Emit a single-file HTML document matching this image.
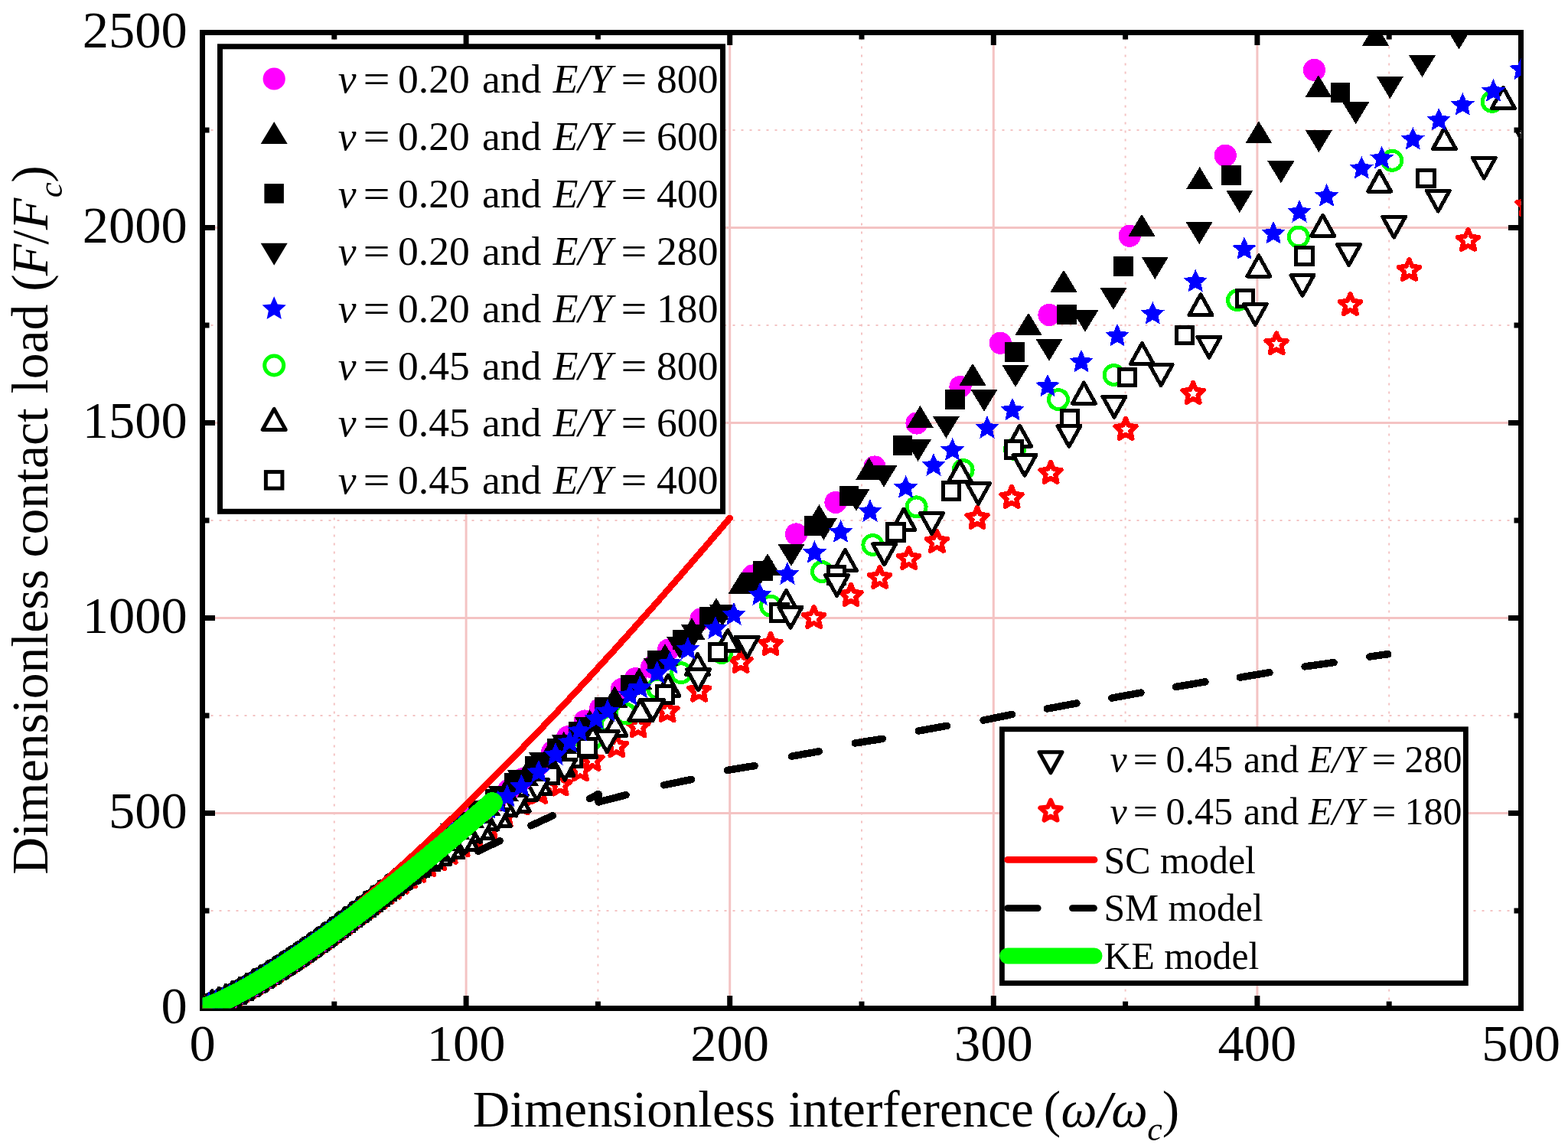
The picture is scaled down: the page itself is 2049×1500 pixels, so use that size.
<!DOCTYPE html>
<html><head><meta charset="utf-8"><title>Dimensionless contact load vs interference</title>
<style>html,body{margin:0;padding:0;background:#fff;}svg{display:block;}</style></head>
<body>
<svg width="2049" height="1500" viewBox="0 0 2049 1500">
<rect width="2049" height="1500" fill="#fff"/>
<defs><clipPath id="cp"><rect x="264.5" y="42.5" width="1723.0" height="1275.0"/></clipPath></defs>
<line x1="436.8" y1="1317.5" x2="436.8" y2="42.5" stroke="#f4c3c3" stroke-width="2" stroke-dasharray="3 8"/>
<line x1="609.1" y1="42.5" x2="609.1" y2="1317.5" stroke="#f4c3c3" stroke-width="3"/>
<line x1="781.4" y1="1317.5" x2="781.4" y2="42.5" stroke="#f4c3c3" stroke-width="2" stroke-dasharray="3 8"/>
<line x1="953.7" y1="42.5" x2="953.7" y2="1317.5" stroke="#f4c3c3" stroke-width="3"/>
<line x1="1126.0" y1="1317.5" x2="1126.0" y2="42.5" stroke="#f4c3c3" stroke-width="2" stroke-dasharray="3 8"/>
<line x1="1298.3" y1="42.5" x2="1298.3" y2="1317.5" stroke="#f4c3c3" stroke-width="3"/>
<line x1="1470.6" y1="1317.5" x2="1470.6" y2="42.5" stroke="#f4c3c3" stroke-width="2" stroke-dasharray="3 8"/>
<line x1="1642.9" y1="42.5" x2="1642.9" y2="1317.5" stroke="#f4c3c3" stroke-width="3"/>
<line x1="1815.2" y1="1317.5" x2="1815.2" y2="42.5" stroke="#f4c3c3" stroke-width="2" stroke-dasharray="3 8"/>
<line x1="264.5" y1="1190.0" x2="1987.5" y2="1190.0" stroke="#f4c3c3" stroke-width="2" stroke-dasharray="3 8"/>
<line x1="264.5" y1="1062.5" x2="1987.5" y2="1062.5" stroke="#f4c3c3" stroke-width="3"/>
<line x1="264.5" y1="935.0" x2="1987.5" y2="935.0" stroke="#f4c3c3" stroke-width="2" stroke-dasharray="3 8"/>
<line x1="264.5" y1="807.5" x2="1987.5" y2="807.5" stroke="#f4c3c3" stroke-width="3"/>
<line x1="264.5" y1="680.0" x2="1987.5" y2="680.0" stroke="#f4c3c3" stroke-width="2" stroke-dasharray="3 8"/>
<line x1="264.5" y1="552.5" x2="1987.5" y2="552.5" stroke="#f4c3c3" stroke-width="3"/>
<line x1="264.5" y1="425.0" x2="1987.5" y2="425.0" stroke="#f4c3c3" stroke-width="2" stroke-dasharray="3 8"/>
<line x1="264.5" y1="297.5" x2="1987.5" y2="297.5" stroke="#f4c3c3" stroke-width="3"/>
<line x1="264.5" y1="170.0" x2="1987.5" y2="170.0" stroke="#f4c3c3" stroke-width="2" stroke-dasharray="3 8"/>
<rect x="264.5" y="42.5" width="1723.0" height="1275.0" fill="none" stroke="#000" stroke-width="7"/>
<line x1="436.8" y1="1317.5" x2="436.8" y2="1308.5" stroke="#000" stroke-width="7"/>
<line x1="436.8" y1="42.5" x2="436.8" y2="51.5" stroke="#000" stroke-width="7"/>
<line x1="609.1" y1="1317.5" x2="609.1" y2="1301.0" stroke="#000" stroke-width="7"/>
<line x1="609.1" y1="42.5" x2="609.1" y2="59.0" stroke="#000" stroke-width="7"/>
<line x1="781.4" y1="1317.5" x2="781.4" y2="1308.5" stroke="#000" stroke-width="7"/>
<line x1="781.4" y1="42.5" x2="781.4" y2="51.5" stroke="#000" stroke-width="7"/>
<line x1="953.7" y1="1317.5" x2="953.7" y2="1301.0" stroke="#000" stroke-width="7"/>
<line x1="953.7" y1="42.5" x2="953.7" y2="59.0" stroke="#000" stroke-width="7"/>
<line x1="1126.0" y1="1317.5" x2="1126.0" y2="1308.5" stroke="#000" stroke-width="7"/>
<line x1="1126.0" y1="42.5" x2="1126.0" y2="51.5" stroke="#000" stroke-width="7"/>
<line x1="1298.3" y1="1317.5" x2="1298.3" y2="1301.0" stroke="#000" stroke-width="7"/>
<line x1="1298.3" y1="42.5" x2="1298.3" y2="59.0" stroke="#000" stroke-width="7"/>
<line x1="1470.6" y1="1317.5" x2="1470.6" y2="1308.5" stroke="#000" stroke-width="7"/>
<line x1="1470.6" y1="42.5" x2="1470.6" y2="51.5" stroke="#000" stroke-width="7"/>
<line x1="1642.9" y1="1317.5" x2="1642.9" y2="1301.0" stroke="#000" stroke-width="7"/>
<line x1="1642.9" y1="42.5" x2="1642.9" y2="59.0" stroke="#000" stroke-width="7"/>
<line x1="1815.2" y1="1317.5" x2="1815.2" y2="1308.5" stroke="#000" stroke-width="7"/>
<line x1="1815.2" y1="42.5" x2="1815.2" y2="51.5" stroke="#000" stroke-width="7"/>
<line x1="264.5" y1="1190.0" x2="273.5" y2="1190.0" stroke="#000" stroke-width="7"/>
<line x1="1987.5" y1="1190.0" x2="1978.5" y2="1190.0" stroke="#000" stroke-width="7"/>
<line x1="264.5" y1="1062.5" x2="281.0" y2="1062.5" stroke="#000" stroke-width="7"/>
<line x1="1987.5" y1="1062.5" x2="1971.0" y2="1062.5" stroke="#000" stroke-width="7"/>
<line x1="264.5" y1="935.0" x2="273.5" y2="935.0" stroke="#000" stroke-width="7"/>
<line x1="1987.5" y1="935.0" x2="1978.5" y2="935.0" stroke="#000" stroke-width="7"/>
<line x1="264.5" y1="807.5" x2="281.0" y2="807.5" stroke="#000" stroke-width="7"/>
<line x1="1987.5" y1="807.5" x2="1971.0" y2="807.5" stroke="#000" stroke-width="7"/>
<line x1="264.5" y1="680.0" x2="273.5" y2="680.0" stroke="#000" stroke-width="7"/>
<line x1="1987.5" y1="680.0" x2="1978.5" y2="680.0" stroke="#000" stroke-width="7"/>
<line x1="264.5" y1="552.5" x2="281.0" y2="552.5" stroke="#000" stroke-width="7"/>
<line x1="1987.5" y1="552.5" x2="1971.0" y2="552.5" stroke="#000" stroke-width="7"/>
<line x1="264.5" y1="425.0" x2="273.5" y2="425.0" stroke="#000" stroke-width="7"/>
<line x1="1987.5" y1="425.0" x2="1978.5" y2="425.0" stroke="#000" stroke-width="7"/>
<line x1="264.5" y1="297.5" x2="281.0" y2="297.5" stroke="#000" stroke-width="7"/>
<line x1="1987.5" y1="297.5" x2="1971.0" y2="297.5" stroke="#000" stroke-width="7"/>
<line x1="264.5" y1="170.0" x2="273.5" y2="170.0" stroke="#000" stroke-width="7"/>
<line x1="1987.5" y1="170.0" x2="1978.5" y2="170.0" stroke="#000" stroke-width="7"/>
<g clip-path="url(#cp)" shape-rendering="crispEdges">
<polygon points="270.0,1301.1 273.9,1310.2 283.7,1311.1 276.3,1317.6 278.5,1327.2 270.0,1322.2 261.5,1327.2 263.7,1317.6 256.3,1311.1 266.1,1310.2" fill="#fff" stroke="#ff0000" stroke-width="6.0" stroke-linejoin="round"/>
<polygon points="279.0,1298.2 282.9,1307.2 292.7,1308.1 285.3,1314.6 287.5,1324.2 279.0,1319.2 270.5,1324.2 272.7,1314.6 265.3,1308.1 275.1,1307.2" fill="#fff" stroke="#ff0000" stroke-width="6.0" stroke-linejoin="round"/>
<polygon points="288.0,1294.8 291.9,1303.8 301.7,1304.7 294.3,1311.2 296.5,1320.8 288.0,1315.8 279.5,1320.8 281.7,1311.2 274.3,1304.7 284.1,1303.8" fill="#fff" stroke="#ff0000" stroke-width="6.0" stroke-linejoin="round"/>
<polygon points="297.0,1290.9 300.9,1300.0 310.7,1300.9 303.3,1307.4 305.5,1317.0 297.0,1311.9 288.5,1317.0 290.7,1307.4 283.3,1300.9 293.1,1300.0" fill="#fff" stroke="#ff0000" stroke-width="6.0" stroke-linejoin="round"/>
<polygon points="306.0,1286.4 309.9,1295.5 319.7,1296.4 312.3,1302.9 314.5,1312.5 306.0,1307.5 297.5,1312.5 299.7,1302.9 292.3,1296.4 302.1,1295.5" fill="#fff" stroke="#ff0000" stroke-width="6.0" stroke-linejoin="round"/>
<polygon points="315.0,1281.5 318.9,1290.6 328.7,1291.5 321.3,1298.0 323.5,1307.6 315.0,1302.6 306.5,1307.6 308.7,1298.0 301.3,1291.5 311.1,1290.6" fill="#fff" stroke="#ff0000" stroke-width="6.0" stroke-linejoin="round"/>
<polygon points="324.0,1276.4 327.9,1285.5 337.7,1286.4 330.3,1292.9 332.5,1302.5 324.0,1297.4 315.5,1302.5 317.7,1292.9 310.3,1286.4 320.1,1285.5" fill="#fff" stroke="#ff0000" stroke-width="6.0" stroke-linejoin="round"/>
<polygon points="333.0,1271.3 336.9,1280.3 346.7,1281.2 339.3,1287.7 341.5,1297.3 333.0,1292.3 324.5,1297.3 326.7,1287.7 319.3,1281.2 329.1,1280.3" fill="#fff" stroke="#ff0000" stroke-width="6.0" stroke-linejoin="round"/>
<polygon points="342.0,1266.0 345.9,1275.0 355.7,1275.9 348.3,1282.4 350.5,1292.0 342.0,1287.0 333.5,1292.0 335.7,1282.4 328.3,1275.9 338.1,1275.0" fill="#fff" stroke="#ff0000" stroke-width="6.0" stroke-linejoin="round"/>
<polygon points="351.0,1260.5 354.9,1269.5 364.7,1270.4 357.3,1276.9 359.5,1286.5 351.0,1281.5 342.5,1286.5 344.7,1276.9 337.3,1270.4 347.1,1269.5" fill="#fff" stroke="#ff0000" stroke-width="6.0" stroke-linejoin="round"/>
<polygon points="360.0,1254.8 363.9,1263.9 373.7,1264.8 366.3,1271.3 368.5,1280.9 360.0,1275.9 351.5,1280.9 353.7,1271.3 346.3,1264.8 356.1,1263.9" fill="#fff" stroke="#ff0000" stroke-width="6.0" stroke-linejoin="round"/>
<polygon points="369.0,1249.1 372.9,1258.1 382.7,1259.0 375.3,1265.5 377.5,1275.1 369.0,1270.1 360.5,1275.1 362.7,1265.5 355.3,1259.0 365.1,1258.1" fill="#fff" stroke="#ff0000" stroke-width="6.0" stroke-linejoin="round"/>
<polygon points="378.0,1243.2 381.9,1252.2 391.7,1253.2 384.3,1259.7 386.5,1269.3 378.0,1264.2 369.5,1269.3 371.7,1259.7 364.3,1253.2 374.1,1252.2" fill="#fff" stroke="#ff0000" stroke-width="6.0" stroke-linejoin="round"/>
<polygon points="387.0,1237.3 390.9,1246.3 400.7,1247.2 393.3,1253.7 395.5,1263.3 387.0,1258.3 378.5,1263.3 380.7,1253.7 373.3,1247.2 383.1,1246.3" fill="#fff" stroke="#ff0000" stroke-width="6.0" stroke-linejoin="round"/>
<polygon points="396.0,1231.2 399.9,1240.2 409.7,1241.1 402.3,1247.6 404.5,1257.2 396.0,1252.2 387.5,1257.2 389.7,1247.6 382.3,1241.1 392.1,1240.2" fill="#fff" stroke="#ff0000" stroke-width="6.0" stroke-linejoin="round"/>
<polygon points="405.0,1225.0 408.9,1234.0 418.7,1234.9 411.3,1241.4 413.5,1251.0 405.0,1246.0 396.5,1251.0 398.7,1241.4 391.3,1234.9 401.1,1234.0" fill="#fff" stroke="#ff0000" stroke-width="6.0" stroke-linejoin="round"/>
<polygon points="414.0,1218.7 417.9,1227.7 427.7,1228.6 420.3,1235.1 422.5,1244.7 414.0,1239.7 405.5,1244.7 407.7,1235.1 400.3,1228.6 410.1,1227.7" fill="#fff" stroke="#ff0000" stroke-width="6.0" stroke-linejoin="round"/>
<polygon points="423.0,1212.3 426.9,1221.3 436.7,1222.2 429.3,1228.7 431.5,1238.3 423.0,1233.3 414.5,1238.3 416.7,1228.7 409.3,1222.2 419.1,1221.3" fill="#fff" stroke="#ff0000" stroke-width="6.0" stroke-linejoin="round"/>
<polygon points="432.0,1205.8 435.9,1214.9 445.7,1215.8 438.3,1222.3 440.5,1231.9 432.0,1226.8 423.5,1231.9 425.7,1222.3 418.3,1215.8 428.1,1214.9" fill="#fff" stroke="#ff0000" stroke-width="6.0" stroke-linejoin="round"/>
<polygon points="441.0,1199.2 444.9,1208.2 454.7,1209.1 447.3,1215.6 449.5,1225.2 441.0,1220.2 432.5,1225.2 434.7,1215.6 427.3,1209.1 437.1,1208.2" fill="#fff" stroke="#ff0000" stroke-width="6.0" stroke-linejoin="round"/>
<polygon points="450.0,1192.4 453.9,1201.5 463.7,1202.4 456.3,1208.9 458.5,1218.5 450.0,1213.5 441.5,1218.5 443.7,1208.9 436.3,1202.4 446.1,1201.5" fill="#fff" stroke="#ff0000" stroke-width="6.0" stroke-linejoin="round"/>
<polygon points="459.0,1185.7 462.9,1194.7 472.7,1195.6 465.3,1202.1 467.5,1211.7 459.0,1206.7 450.5,1211.7 452.7,1202.1 445.3,1195.6 455.1,1194.7" fill="#fff" stroke="#ff0000" stroke-width="6.0" stroke-linejoin="round"/>
<polygon points="468.0,1179.0 471.9,1188.1 481.7,1189.0 474.3,1195.5 476.5,1205.1 468.0,1200.1 459.5,1205.1 461.7,1195.5 454.3,1189.0 464.1,1188.1" fill="#fff" stroke="#ff0000" stroke-width="6.0" stroke-linejoin="round"/>
<polygon points="477.0,1172.6 480.9,1181.6 490.7,1182.5 483.3,1189.0 485.5,1198.6 477.0,1193.6 468.5,1198.6 470.7,1189.0 463.3,1182.5 473.1,1181.6" fill="#fff" stroke="#ff0000" stroke-width="6.0" stroke-linejoin="round"/>
<polygon points="486.0,1166.1 489.9,1175.1 499.7,1176.0 492.3,1182.5 494.5,1192.1 486.0,1187.1 477.5,1192.1 479.7,1182.5 472.3,1176.0 482.1,1175.1" fill="#fff" stroke="#ff0000" stroke-width="6.0" stroke-linejoin="round"/>
<polygon points="495.0,1159.6 498.9,1168.6 508.7,1169.6 501.3,1176.1 503.5,1185.7 495.0,1180.6 486.5,1185.7 488.7,1176.1 481.3,1169.6 491.1,1168.6" fill="#fff" stroke="#ff0000" stroke-width="6.0" stroke-linejoin="round"/>
<polygon points="504.0,1153.2 507.9,1162.2 517.7,1163.1 510.3,1169.6 512.5,1179.2 504.0,1174.2 495.5,1179.2 497.7,1169.6 490.3,1163.1 500.1,1162.2" fill="#fff" stroke="#ff0000" stroke-width="6.0" stroke-linejoin="round"/>
<polygon points="513.3,1146.6 517.2,1155.7 527.0,1156.6 519.6,1163.1 521.8,1172.7 513.3,1167.6 504.9,1172.7 507.0,1163.1 499.6,1156.6 509.4,1155.7" fill="#fff" stroke="#ff0000" stroke-width="6.0" stroke-linejoin="round"/>
<polygon points="523.4,1139.7 527.3,1148.7 537.1,1149.6 529.7,1156.1 531.8,1165.7 523.4,1160.7 514.9,1165.7 517.1,1156.1 509.7,1149.6 519.5,1148.7" fill="#fff" stroke="#ff0000" stroke-width="6.0" stroke-linejoin="round"/>
<polygon points="534.3,1132.3 538.1,1141.4 548.0,1142.3 540.6,1148.8 542.7,1158.4 534.3,1153.3 525.8,1158.4 528.0,1148.8 520.6,1142.3 530.4,1141.4" fill="#fff" stroke="#ff0000" stroke-width="6.0" stroke-linejoin="round"/>
<polygon points="546.0,1124.7 549.9,1133.7 559.7,1134.6 552.3,1141.1 554.5,1150.7 546.0,1145.7 537.5,1150.7 539.7,1141.1 532.3,1134.6 542.1,1133.7" fill="#fff" stroke="#ff0000" stroke-width="6.0" stroke-linejoin="round"/>
<polygon points="558.7,1116.9 562.6,1125.9 572.4,1126.8 565.0,1133.3 567.1,1142.9 558.7,1137.9 550.2,1142.9 552.4,1133.3 545.0,1126.8 554.8,1125.9" fill="#fff" stroke="#ff0000" stroke-width="6.0" stroke-linejoin="round"/>
<polygon points="572.4,1109.1 576.3,1118.1 586.1,1119.0 578.7,1125.5 580.8,1135.1 572.4,1130.1 563.9,1135.1 566.1,1125.5 558.7,1119.0 568.5,1118.1" fill="#fff" stroke="#ff0000" stroke-width="6.0" stroke-linejoin="round"/>
<polygon points="587.2,1100.7 591.1,1109.8 600.9,1110.7 593.5,1117.2 595.6,1126.8 587.2,1121.8 578.7,1126.8 580.9,1117.2 573.5,1110.7 583.3,1109.8" fill="#fff" stroke="#ff0000" stroke-width="6.0" stroke-linejoin="round"/>
<polygon points="603.1,1091.2 607.0,1100.2 616.8,1101.2 609.4,1107.7 611.6,1117.3 603.1,1112.2 594.7,1117.3 596.8,1107.7 589.4,1101.2 599.2,1100.2" fill="#fff" stroke="#ff0000" stroke-width="6.0" stroke-linejoin="round"/>
<polygon points="620.4,1080.2 624.3,1089.2 634.1,1090.1 626.7,1096.6 628.8,1106.2 620.4,1101.2 611.9,1106.2 614.1,1096.6 606.7,1090.1 616.5,1089.2" fill="#fff" stroke="#ff0000" stroke-width="6.0" stroke-linejoin="round"/>
<polygon points="639.0,1067.6 642.9,1076.6 652.7,1077.5 645.3,1084.0 647.5,1093.6 639.0,1088.6 630.6,1093.6 632.7,1084.0 625.3,1077.5 635.1,1076.6" fill="#fff" stroke="#ff0000" stroke-width="6.0" stroke-linejoin="round"/>
<polygon points="659.1,1052.5 663.0,1061.5 672.8,1062.4 665.4,1068.9 667.6,1078.5 659.1,1073.5 650.7,1078.5 652.8,1068.9 645.4,1062.4 655.2,1061.5" fill="#fff" stroke="#ff0000" stroke-width="6.0" stroke-linejoin="round"/>
<polygon points="680.9,1036.5 684.8,1045.5 694.6,1046.4 687.2,1052.9 689.3,1062.5 680.9,1057.5 672.4,1062.5 674.6,1052.9 667.2,1046.4 677.0,1045.5" fill="#fff" stroke="#ff0000" stroke-width="6.0" stroke-linejoin="round"/>
<polygon points="704.3,1021.8 708.2,1030.9 718.0,1031.8 710.6,1038.3 712.8,1047.9 704.3,1042.9 695.9,1047.9 698.0,1038.3 690.6,1031.8 700.4,1030.9" fill="#fff" stroke="#ff0000" stroke-width="6.0" stroke-linejoin="round"/>
<polygon points="732.0,1011.5 735.9,1020.5 745.7,1021.5 738.3,1027.9 740.5,1037.5 732.0,1032.5 723.5,1037.5 725.7,1027.9 718.3,1021.5 728.1,1020.5" fill="#fff" stroke="#ff0000" stroke-width="6.0" stroke-linejoin="round"/>
<polygon points="758.4,992.3 762.3,1001.3 772.1,1002.3 764.7,1008.7 766.9,1018.3 758.4,1013.3 749.9,1018.3 752.1,1008.7 744.7,1002.3 754.5,1001.3" fill="#fff" stroke="#ff0000" stroke-width="6.0" stroke-linejoin="round"/>
<polygon points="774.0,979.1 777.9,988.1 787.7,989.1 780.3,995.5 782.5,1005.1 774.0,1000.1 765.5,1005.1 767.7,995.5 760.3,989.1 770.1,988.1" fill="#fff" stroke="#ff0000" stroke-width="6.0" stroke-linejoin="round"/>
<polygon points="805.8,961.1 809.7,970.1 819.5,971.1 812.1,977.5 814.3,987.1 805.8,982.1 797.3,987.1 799.5,977.5 792.1,971.1 801.9,970.1" fill="#fff" stroke="#ff0000" stroke-width="6.0" stroke-linejoin="round"/>
<polygon points="834.0,935.3 837.9,944.3 847.7,945.3 840.3,951.7 842.5,961.3 834.0,956.3 825.5,961.3 827.7,951.7 820.3,945.3 830.1,944.3" fill="#fff" stroke="#ff0000" stroke-width="6.0" stroke-linejoin="round"/>
<polygon points="872.0,915.2 875.9,924.2 885.7,925.2 878.3,931.6 880.5,941.2 872.0,936.2 863.5,941.2 865.7,931.6 858.3,925.2 868.1,924.2" fill="#fff" stroke="#ff0000" stroke-width="6.0" stroke-linejoin="round"/>
<polygon points="913.6,888.6 917.5,897.6 927.3,898.6 919.9,905.0 922.1,914.6 913.6,909.6 905.1,914.6 907.3,905.0 899.9,898.6 909.7,897.6" fill="#fff" stroke="#ff0000" stroke-width="6.0" stroke-linejoin="round"/>
<polygon points="968.0,850.9 971.9,859.9 981.7,860.9 974.3,867.3 976.5,876.9 968.0,871.9 959.5,876.9 961.7,867.3 954.3,860.9 964.1,859.9" fill="#fff" stroke="#ff0000" stroke-width="6.0" stroke-linejoin="round"/>
<polygon points="1007.0,827.9 1010.9,836.9 1020.7,837.9 1013.3,844.3 1015.5,853.9 1007.0,848.9 998.5,853.9 1000.7,844.3 993.3,837.9 1003.1,836.9" fill="#fff" stroke="#ff0000" stroke-width="6.0" stroke-linejoin="round"/>
<polygon points="1063.6,792.9 1067.5,801.9 1077.3,802.9 1069.9,809.3 1072.1,818.9 1063.6,813.9 1055.1,818.9 1057.3,809.3 1049.9,802.9 1059.7,801.9" fill="#fff" stroke="#ff0000" stroke-width="6.0" stroke-linejoin="round"/>
<polygon points="1112.0,763.9 1115.9,772.9 1125.7,773.9 1118.3,780.3 1120.5,789.9 1112.0,784.9 1103.5,789.9 1105.7,780.3 1098.3,773.9 1108.1,772.9" fill="#fff" stroke="#ff0000" stroke-width="6.0" stroke-linejoin="round"/>
<polygon points="1149.6,740.9 1153.5,749.9 1163.3,750.9 1155.9,757.3 1158.1,766.9 1149.6,761.9 1141.1,766.9 1143.3,757.3 1135.9,750.9 1145.7,749.9" fill="#fff" stroke="#ff0000" stroke-width="6.0" stroke-linejoin="round"/>
<polygon points="1187.6,715.9 1191.5,724.9 1201.3,725.9 1193.9,732.3 1196.1,741.9 1187.6,736.9 1179.1,741.9 1181.3,732.3 1173.9,725.9 1183.7,724.9" fill="#fff" stroke="#ff0000" stroke-width="6.0" stroke-linejoin="round"/>
<polygon points="1224.4,693.9 1228.3,702.9 1238.1,703.9 1230.7,710.3 1232.9,719.9 1224.4,714.9 1215.9,719.9 1218.1,710.3 1210.7,703.9 1220.5,702.9" fill="#fff" stroke="#ff0000" stroke-width="6.0" stroke-linejoin="round"/>
<polygon points="1277.0,662.9 1280.9,671.9 1290.7,672.9 1283.3,679.3 1285.5,688.9 1277.0,683.9 1268.5,688.9 1270.7,679.3 1263.3,672.9 1273.1,671.9" fill="#fff" stroke="#ff0000" stroke-width="6.0" stroke-linejoin="round"/>
<polygon points="1322.0,635.9 1325.9,644.9 1335.7,645.9 1328.3,652.3 1330.5,661.9 1322.0,656.9 1313.5,661.9 1315.7,652.3 1308.3,645.9 1318.1,644.9" fill="#fff" stroke="#ff0000" stroke-width="6.0" stroke-linejoin="round"/>
<polygon points="1373.0,603.9 1376.9,612.9 1386.7,613.9 1379.3,620.3 1381.5,629.9 1373.0,624.9 1364.5,629.9 1366.7,620.3 1359.3,613.9 1369.1,612.9" fill="#fff" stroke="#ff0000" stroke-width="6.0" stroke-linejoin="round"/>
<polygon points="1471.0,546.9 1474.9,555.9 1484.7,556.9 1477.3,563.3 1479.5,572.9 1471.0,567.9 1462.5,572.9 1464.7,563.3 1457.3,556.9 1467.1,555.9" fill="#fff" stroke="#ff0000" stroke-width="6.0" stroke-linejoin="round"/>
<polygon points="1559.1,499.9 1563.0,508.9 1572.8,509.9 1565.4,516.3 1567.6,525.9 1559.1,520.9 1550.6,525.9 1552.8,516.3 1545.4,509.9 1555.2,508.9" fill="#fff" stroke="#ff0000" stroke-width="6.0" stroke-linejoin="round"/>
<polygon points="1668.1,435.2 1672.0,444.2 1681.8,445.2 1674.4,451.6 1676.6,461.2 1668.1,456.2 1659.6,461.2 1661.8,451.6 1654.4,445.2 1664.2,444.2" fill="#fff" stroke="#ff0000" stroke-width="6.0" stroke-linejoin="round"/>
<polygon points="1764.5,384.0 1768.4,393.0 1778.2,394.0 1770.8,400.4 1773.0,410.0 1764.5,405.0 1756.0,410.0 1758.2,400.4 1750.8,394.0 1760.6,393.0" fill="#fff" stroke="#ff0000" stroke-width="6.0" stroke-linejoin="round"/>
<polygon points="1841.5,338.9 1845.4,347.9 1855.2,348.9 1847.8,355.3 1850.0,364.9 1841.5,359.9 1833.0,364.9 1835.2,355.3 1827.8,348.9 1837.6,347.9" fill="#fff" stroke="#ff0000" stroke-width="6.0" stroke-linejoin="round"/>
<polygon points="1918.5,299.9 1922.4,308.9 1932.2,309.9 1924.8,316.3 1927.0,325.9 1918.5,320.9 1910.0,325.9 1912.2,316.3 1904.8,309.9 1914.6,308.9" fill="#fff" stroke="#ff0000" stroke-width="6.0" stroke-linejoin="round"/>
<polygon points="1996.0,253.9 1999.9,262.9 2009.7,263.9 2002.3,270.3 2004.5,279.9 1996.0,274.9 1987.5,279.9 1989.7,270.3 1982.3,263.9 1992.1,262.9" fill="#fff" stroke="#ff0000" stroke-width="6.0" stroke-linejoin="round"/>
<circle cx="268.0" cy="1315.8" r="12.5" fill="#fff" stroke="#00ff00" stroke-width="5.0"/>
<circle cx="277.0" cy="1313.0" r="12.5" fill="#fff" stroke="#00ff00" stroke-width="5.0"/>
<circle cx="286.0" cy="1309.7" r="12.5" fill="#fff" stroke="#00ff00" stroke-width="5.0"/>
<circle cx="295.0" cy="1305.9" r="12.5" fill="#fff" stroke="#00ff00" stroke-width="5.0"/>
<circle cx="304.0" cy="1301.6" r="12.5" fill="#fff" stroke="#00ff00" stroke-width="5.0"/>
<circle cx="313.0" cy="1296.8" r="12.5" fill="#fff" stroke="#00ff00" stroke-width="5.0"/>
<circle cx="322.0" cy="1291.7" r="12.5" fill="#fff" stroke="#00ff00" stroke-width="5.0"/>
<circle cx="331.0" cy="1286.5" r="12.5" fill="#fff" stroke="#00ff00" stroke-width="5.0"/>
<circle cx="340.0" cy="1281.3" r="12.5" fill="#fff" stroke="#00ff00" stroke-width="5.0"/>
<circle cx="349.0" cy="1275.8" r="12.5" fill="#fff" stroke="#00ff00" stroke-width="5.0"/>
<circle cx="358.0" cy="1270.2" r="12.5" fill="#fff" stroke="#00ff00" stroke-width="5.0"/>
<circle cx="367.0" cy="1264.5" r="12.5" fill="#fff" stroke="#00ff00" stroke-width="5.0"/>
<circle cx="376.0" cy="1258.6" r="12.5" fill="#fff" stroke="#00ff00" stroke-width="5.0"/>
<circle cx="385.0" cy="1252.7" r="12.5" fill="#fff" stroke="#00ff00" stroke-width="5.0"/>
<circle cx="394.0" cy="1246.6" r="12.5" fill="#fff" stroke="#00ff00" stroke-width="5.0"/>
<circle cx="403.0" cy="1240.5" r="12.5" fill="#fff" stroke="#00ff00" stroke-width="5.0"/>
<circle cx="412.0" cy="1234.2" r="12.5" fill="#fff" stroke="#00ff00" stroke-width="5.0"/>
<circle cx="421.0" cy="1227.8" r="12.5" fill="#fff" stroke="#00ff00" stroke-width="5.0"/>
<circle cx="430.0" cy="1221.4" r="12.5" fill="#fff" stroke="#00ff00" stroke-width="5.0"/>
<circle cx="439.0" cy="1214.8" r="12.5" fill="#fff" stroke="#00ff00" stroke-width="5.0"/>
<circle cx="448.0" cy="1208.2" r="12.5" fill="#fff" stroke="#00ff00" stroke-width="5.0"/>
<circle cx="457.0" cy="1201.4" r="12.5" fill="#fff" stroke="#00ff00" stroke-width="5.0"/>
<circle cx="466.0" cy="1194.7" r="12.5" fill="#fff" stroke="#00ff00" stroke-width="5.0"/>
<circle cx="475.0" cy="1187.9" r="12.5" fill="#fff" stroke="#00ff00" stroke-width="5.0"/>
<circle cx="484.0" cy="1181.1" r="12.5" fill="#fff" stroke="#00ff00" stroke-width="5.0"/>
<circle cx="493.0" cy="1174.2" r="12.5" fill="#fff" stroke="#00ff00" stroke-width="5.0"/>
<circle cx="502.0" cy="1167.2" r="12.5" fill="#fff" stroke="#00ff00" stroke-width="5.0"/>
<circle cx="511.2" cy="1160.1" r="12.5" fill="#fff" stroke="#00ff00" stroke-width="5.0"/>
<circle cx="521.1" cy="1152.5" r="12.5" fill="#fff" stroke="#00ff00" stroke-width="5.0"/>
<circle cx="531.7" cy="1144.5" r="12.5" fill="#fff" stroke="#00ff00" stroke-width="5.0"/>
<circle cx="543.3" cy="1136.0" r="12.5" fill="#fff" stroke="#00ff00" stroke-width="5.0"/>
<circle cx="555.7" cy="1127.3" r="12.5" fill="#fff" stroke="#00ff00" stroke-width="5.0"/>
<circle cx="569.2" cy="1118.6" r="12.5" fill="#fff" stroke="#00ff00" stroke-width="5.0"/>
<circle cx="583.7" cy="1109.3" r="12.5" fill="#fff" stroke="#00ff00" stroke-width="5.0"/>
<circle cx="599.4" cy="1098.7" r="12.5" fill="#fff" stroke="#00ff00" stroke-width="5.0"/>
<circle cx="616.4" cy="1085.4" r="12.5" fill="#fff" stroke="#00ff00" stroke-width="5.0"/>
<circle cx="634.7" cy="1070.2" r="12.5" fill="#fff" stroke="#00ff00" stroke-width="5.0"/>
<circle cx="654.5" cy="1054.8" r="12.5" fill="#fff" stroke="#00ff00" stroke-width="5.0"/>
<circle cx="675.8" cy="1038.5" r="12.5" fill="#fff" stroke="#00ff00" stroke-width="5.0"/>
<circle cx="698.9" cy="1021.2" r="12.5" fill="#fff" stroke="#00ff00" stroke-width="5.0"/>
<circle cx="723.8" cy="1002.8" r="12.5" fill="#fff" stroke="#00ff00" stroke-width="5.0"/>
<circle cx="748.8" cy="984.3" r="12.5" fill="#fff" stroke="#00ff00" stroke-width="5.0"/>
<circle cx="773.8" cy="965.8" r="12.5" fill="#fff" stroke="#00ff00" stroke-width="5.0"/>
<circle cx="798.8" cy="946.9" r="12.5" fill="#fff" stroke="#00ff00" stroke-width="5.0"/>
<circle cx="817.6" cy="932.5" r="12.5" fill="#fff" stroke="#00ff00" stroke-width="5.0"/>
<circle cx="859.2" cy="899.5" r="12.5" fill="#fff" stroke="#00ff00" stroke-width="5.0"/>
<circle cx="890.1" cy="879.2" r="12.5" fill="#fff" stroke="#00ff00" stroke-width="5.0"/>
<circle cx="943.0" cy="853.0" r="12.5" fill="#fff" stroke="#00ff00" stroke-width="5.0"/>
<circle cx="1007.0" cy="791.6" r="12.5" fill="#fff" stroke="#00ff00" stroke-width="5.0"/>
<circle cx="1074.0" cy="747.0" r="12.5" fill="#fff" stroke="#00ff00" stroke-width="5.0"/>
<circle cx="1140.4" cy="712.0" r="12.5" fill="#fff" stroke="#00ff00" stroke-width="5.0"/>
<circle cx="1197.6" cy="662.4" r="12.5" fill="#fff" stroke="#00ff00" stroke-width="5.0"/>
<circle cx="1258.6" cy="614.0" r="12.5" fill="#fff" stroke="#00ff00" stroke-width="5.0"/>
<circle cx="1326.0" cy="587.0" r="12.5" fill="#fff" stroke="#00ff00" stroke-width="5.0"/>
<circle cx="1383.0" cy="522.0" r="12.5" fill="#fff" stroke="#00ff00" stroke-width="5.0"/>
<circle cx="1455.6" cy="490.0" r="12.5" fill="#fff" stroke="#00ff00" stroke-width="5.0"/>
<circle cx="1617.0" cy="392.2" r="12.5" fill="#fff" stroke="#00ff00" stroke-width="5.0"/>
<circle cx="1696.8" cy="309.5" r="12.5" fill="#fff" stroke="#00ff00" stroke-width="5.0"/>
<circle cx="1819.3" cy="209.8" r="12.5" fill="#fff" stroke="#00ff00" stroke-width="5.0"/>
<circle cx="1949.6" cy="132.8" r="12.5" fill="#fff" stroke="#00ff00" stroke-width="5.0"/>
<polygon points="262.0,1321.5 292.0,1321.5 277.0,1294.5" fill="#fff" stroke="#000" stroke-width="5.0" stroke-linejoin="round"/>
<polygon points="271.0,1318.2 301.0,1318.2 286.0,1291.2" fill="#fff" stroke="#000" stroke-width="5.0" stroke-linejoin="round"/>
<polygon points="280.0,1314.4 310.0,1314.4 295.0,1287.4" fill="#fff" stroke="#000" stroke-width="5.0" stroke-linejoin="round"/>
<polygon points="289.0,1310.1 319.0,1310.1 304.0,1283.1" fill="#fff" stroke="#000" stroke-width="5.0" stroke-linejoin="round"/>
<polygon points="298.0,1305.3 328.0,1305.3 313.0,1278.3" fill="#fff" stroke="#000" stroke-width="5.0" stroke-linejoin="round"/>
<polygon points="307.0,1300.2 337.0,1300.2 322.0,1273.2" fill="#fff" stroke="#000" stroke-width="5.0" stroke-linejoin="round"/>
<polygon points="316.0,1295.0 346.0,1295.0 331.0,1268.0" fill="#fff" stroke="#000" stroke-width="5.0" stroke-linejoin="round"/>
<polygon points="325.0,1289.8 355.0,1289.8 340.0,1262.8" fill="#fff" stroke="#000" stroke-width="5.0" stroke-linejoin="round"/>
<polygon points="334.0,1284.3 364.0,1284.3 349.0,1257.3" fill="#fff" stroke="#000" stroke-width="5.0" stroke-linejoin="round"/>
<polygon points="343.0,1278.7 373.0,1278.7 358.0,1251.7" fill="#fff" stroke="#000" stroke-width="5.0" stroke-linejoin="round"/>
<polygon points="352.0,1273.0 382.0,1273.0 367.0,1246.0" fill="#fff" stroke="#000" stroke-width="5.0" stroke-linejoin="round"/>
<polygon points="361.0,1267.1 391.0,1267.1 376.0,1240.1" fill="#fff" stroke="#000" stroke-width="5.0" stroke-linejoin="round"/>
<polygon points="370.0,1261.2 400.0,1261.2 385.0,1234.2" fill="#fff" stroke="#000" stroke-width="5.0" stroke-linejoin="round"/>
<polygon points="379.0,1255.1 409.0,1255.1 394.0,1228.1" fill="#fff" stroke="#000" stroke-width="5.0" stroke-linejoin="round"/>
<polygon points="388.0,1249.0 418.0,1249.0 403.0,1222.0" fill="#fff" stroke="#000" stroke-width="5.0" stroke-linejoin="round"/>
<polygon points="397.0,1242.7 427.0,1242.7 412.0,1215.7" fill="#fff" stroke="#000" stroke-width="5.0" stroke-linejoin="round"/>
<polygon points="406.0,1236.3 436.0,1236.3 421.0,1209.3" fill="#fff" stroke="#000" stroke-width="5.0" stroke-linejoin="round"/>
<polygon points="415.0,1229.9 445.0,1229.9 430.0,1202.9" fill="#fff" stroke="#000" stroke-width="5.0" stroke-linejoin="round"/>
<polygon points="424.0,1223.3 454.0,1223.3 439.0,1196.3" fill="#fff" stroke="#000" stroke-width="5.0" stroke-linejoin="round"/>
<polygon points="433.0,1216.6 463.0,1216.6 448.0,1189.6" fill="#fff" stroke="#000" stroke-width="5.0" stroke-linejoin="round"/>
<polygon points="442.0,1209.9 472.0,1209.9 457.0,1182.9" fill="#fff" stroke="#000" stroke-width="5.0" stroke-linejoin="round"/>
<polygon points="451.0,1203.2 481.0,1203.2 466.0,1176.2" fill="#fff" stroke="#000" stroke-width="5.0" stroke-linejoin="round"/>
<polygon points="460.0,1196.5 490.0,1196.5 475.0,1169.5" fill="#fff" stroke="#000" stroke-width="5.0" stroke-linejoin="round"/>
<polygon points="469.0,1189.6 499.0,1189.6 484.0,1162.6" fill="#fff" stroke="#000" stroke-width="5.0" stroke-linejoin="round"/>
<polygon points="478.0,1182.7 508.0,1182.7 493.0,1155.7" fill="#fff" stroke="#000" stroke-width="5.0" stroke-linejoin="round"/>
<polygon points="487.0,1175.7 517.0,1175.7 502.0,1148.7" fill="#fff" stroke="#000" stroke-width="5.0" stroke-linejoin="round"/>
<polygon points="496.2,1168.7 526.2,1168.7 511.2,1141.7" fill="#fff" stroke="#000" stroke-width="5.0" stroke-linejoin="round"/>
<polygon points="506.4,1161.1 536.4,1161.1 521.4,1134.1" fill="#fff" stroke="#000" stroke-width="5.0" stroke-linejoin="round"/>
<polygon points="517.6,1153.0 547.6,1153.0 532.6,1126.0" fill="#fff" stroke="#000" stroke-width="5.0" stroke-linejoin="round"/>
<polygon points="530.1,1144.8 560.1,1144.8 545.1,1117.8" fill="#fff" stroke="#000" stroke-width="5.0" stroke-linejoin="round"/>
<polygon points="543.8,1136.8 573.8,1136.8 558.8,1109.8" fill="#fff" stroke="#000" stroke-width="5.0" stroke-linejoin="round"/>
<polygon points="559.0,1129.2 589.0,1129.2 574.0,1102.2" fill="#fff" stroke="#000" stroke-width="5.0" stroke-linejoin="round"/>
<polygon points="575.7,1120.9 605.7,1120.9 590.7,1093.9" fill="#fff" stroke="#000" stroke-width="5.0" stroke-linejoin="round"/>
<polygon points="594.3,1110.0 624.3,1110.0 609.3,1083.0" fill="#fff" stroke="#000" stroke-width="5.0" stroke-linejoin="round"/>
<polygon points="614.7,1095.9 644.7,1095.9 629.7,1068.9" fill="#fff" stroke="#000" stroke-width="5.0" stroke-linejoin="round"/>
<polygon points="637.3,1079.4 667.3,1079.4 652.3,1052.4" fill="#fff" stroke="#000" stroke-width="5.0" stroke-linejoin="round"/>
<polygon points="662.3,1060.1 692.3,1060.1 677.3,1033.1" fill="#fff" stroke="#000" stroke-width="5.0" stroke-linejoin="round"/>
<polygon points="690.0,1037.7 720.0,1037.7 705.0,1010.7" fill="#fff" stroke="#000" stroke-width="5.0" stroke-linejoin="round"/>
<polygon points="720.0,1013.1 750.0,1013.1 735.0,986.1" fill="#fff" stroke="#000" stroke-width="5.0" stroke-linejoin="round"/>
<polygon points="750.0,989.2 780.0,989.2 765.0,962.2" fill="#fff" stroke="#000" stroke-width="5.0" stroke-linejoin="round"/>
<polygon points="789.0,961.1 819.0,961.1 804.0,934.1" fill="#fff" stroke="#000" stroke-width="5.0" stroke-linejoin="round"/>
<polygon points="821.8,941.3 851.8,941.3 836.8,914.3" fill="#fff" stroke="#000" stroke-width="5.0" stroke-linejoin="round"/>
<polygon points="858.0,909.3 888.0,909.3 873.0,882.3" fill="#fff" stroke="#000" stroke-width="5.0" stroke-linejoin="round"/>
<polygon points="896.5,881.5 926.5,881.5 911.5,854.5" fill="#fff" stroke="#000" stroke-width="5.0" stroke-linejoin="round"/>
<polygon points="936.0,850.5 966.0,850.5 951.0,823.5" fill="#fff" stroke="#000" stroke-width="5.0" stroke-linejoin="round"/>
<polygon points="1012.4,798.5 1042.4,798.5 1027.4,771.5" fill="#fff" stroke="#000" stroke-width="5.0" stroke-linejoin="round"/>
<polygon points="1089.4,745.5 1119.4,745.5 1104.4,718.5" fill="#fff" stroke="#000" stroke-width="5.0" stroke-linejoin="round"/>
<polygon points="1166.0,692.1 1196.0,692.1 1181.0,665.1" fill="#fff" stroke="#000" stroke-width="5.0" stroke-linejoin="round"/>
<polygon points="1239.4,629.5 1269.4,629.5 1254.4,602.5" fill="#fff" stroke="#000" stroke-width="5.0" stroke-linejoin="round"/>
<polygon points="1317.6,583.1 1347.6,583.1 1332.6,556.1" fill="#fff" stroke="#000" stroke-width="5.0" stroke-linejoin="round"/>
<polygon points="1401.4,527.1 1431.4,527.1 1416.4,500.1" fill="#fff" stroke="#000" stroke-width="5.0" stroke-linejoin="round"/>
<polygon points="1477.4,475.5 1507.4,475.5 1492.4,448.5" fill="#fff" stroke="#000" stroke-width="5.0" stroke-linejoin="round"/>
<polygon points="1554.0,411.6 1584.0,411.6 1569.0,384.6" fill="#fff" stroke="#000" stroke-width="5.0" stroke-linejoin="round"/>
<polygon points="1629.9,361.0 1659.9,361.0 1644.9,334.0" fill="#fff" stroke="#000" stroke-width="5.0" stroke-linejoin="round"/>
<polygon points="1713.6,308.2 1743.6,308.2 1728.6,281.2" fill="#fff" stroke="#000" stroke-width="5.0" stroke-linejoin="round"/>
<polygon points="1787.7,250.1 1817.7,250.1 1802.7,223.1" fill="#fff" stroke="#000" stroke-width="5.0" stroke-linejoin="round"/>
<polygon points="1872.4,194.6 1902.4,194.6 1887.4,167.6" fill="#fff" stroke="#000" stroke-width="5.0" stroke-linejoin="round"/>
<polygon points="1949.4,141.3 1979.4,141.3 1964.4,114.3" fill="#fff" stroke="#000" stroke-width="5.0" stroke-linejoin="round"/>
<rect x="261.2" y="1303.9" width="21.5" height="21.5" fill="#fff" stroke="#000" stroke-width="5.0"/>
<rect x="270.2" y="1300.8" width="21.5" height="21.5" fill="#fff" stroke="#000" stroke-width="5.0"/>
<rect x="279.2" y="1297.3" width="21.5" height="21.5" fill="#fff" stroke="#000" stroke-width="5.0"/>
<rect x="288.2" y="1293.3" width="21.5" height="21.5" fill="#fff" stroke="#000" stroke-width="5.0"/>
<rect x="297.2" y="1288.7" width="21.5" height="21.5" fill="#fff" stroke="#000" stroke-width="5.0"/>
<rect x="306.2" y="1283.8" width="21.5" height="21.5" fill="#fff" stroke="#000" stroke-width="5.0"/>
<rect x="315.2" y="1278.6" width="21.5" height="21.5" fill="#fff" stroke="#000" stroke-width="5.0"/>
<rect x="324.2" y="1273.5" width="21.5" height="21.5" fill="#fff" stroke="#000" stroke-width="5.0"/>
<rect x="333.2" y="1268.1" width="21.5" height="21.5" fill="#fff" stroke="#000" stroke-width="5.0"/>
<rect x="342.2" y="1262.6" width="21.5" height="21.5" fill="#fff" stroke="#000" stroke-width="5.0"/>
<rect x="351.2" y="1256.9" width="21.5" height="21.5" fill="#fff" stroke="#000" stroke-width="5.0"/>
<rect x="360.2" y="1251.1" width="21.5" height="21.5" fill="#fff" stroke="#000" stroke-width="5.0"/>
<rect x="369.2" y="1245.2" width="21.5" height="21.5" fill="#fff" stroke="#000" stroke-width="5.0"/>
<rect x="378.2" y="1239.3" width="21.5" height="21.5" fill="#fff" stroke="#000" stroke-width="5.0"/>
<rect x="387.2" y="1233.2" width="21.5" height="21.5" fill="#fff" stroke="#000" stroke-width="5.0"/>
<rect x="396.2" y="1226.9" width="21.5" height="21.5" fill="#fff" stroke="#000" stroke-width="5.0"/>
<rect x="405.2" y="1220.6" width="21.5" height="21.5" fill="#fff" stroke="#000" stroke-width="5.0"/>
<rect x="414.2" y="1214.2" width="21.5" height="21.5" fill="#fff" stroke="#000" stroke-width="5.0"/>
<rect x="423.2" y="1207.7" width="21.5" height="21.5" fill="#fff" stroke="#000" stroke-width="5.0"/>
<rect x="432.2" y="1201.1" width="21.5" height="21.5" fill="#fff" stroke="#000" stroke-width="5.0"/>
<rect x="441.2" y="1194.4" width="21.5" height="21.5" fill="#fff" stroke="#000" stroke-width="5.0"/>
<rect x="450.2" y="1187.7" width="21.5" height="21.5" fill="#fff" stroke="#000" stroke-width="5.0"/>
<rect x="459.2" y="1180.9" width="21.5" height="21.5" fill="#fff" stroke="#000" stroke-width="5.0"/>
<rect x="468.2" y="1174.2" width="21.5" height="21.5" fill="#fff" stroke="#000" stroke-width="5.0"/>
<rect x="477.2" y="1167.4" width="21.5" height="21.5" fill="#fff" stroke="#000" stroke-width="5.0"/>
<rect x="486.2" y="1160.5" width="21.5" height="21.5" fill="#fff" stroke="#000" stroke-width="5.0"/>
<rect x="495.2" y="1153.6" width="21.5" height="21.5" fill="#fff" stroke="#000" stroke-width="5.0"/>
<rect x="504.9" y="1146.2" width="21.5" height="21.5" fill="#fff" stroke="#000" stroke-width="5.0"/>
<rect x="515.5" y="1138.3" width="21.5" height="21.5" fill="#fff" stroke="#000" stroke-width="5.0"/>
<rect x="527.3" y="1129.8" width="21.5" height="21.5" fill="#fff" stroke="#000" stroke-width="5.0"/>
<rect x="540.3" y="1120.8" width="21.5" height="21.5" fill="#fff" stroke="#000" stroke-width="5.0"/>
<rect x="554.6" y="1111.8" width="21.5" height="21.5" fill="#fff" stroke="#000" stroke-width="5.0"/>
<rect x="570.5" y="1102.3" width="21.5" height="21.5" fill="#fff" stroke="#000" stroke-width="5.0"/>
<rect x="588.0" y="1091.3" width="21.5" height="21.5" fill="#fff" stroke="#000" stroke-width="5.0"/>
<rect x="607.4" y="1077.6" width="21.5" height="21.5" fill="#fff" stroke="#000" stroke-width="5.0"/>
<rect x="628.8" y="1061.6" width="21.5" height="21.5" fill="#fff" stroke="#000" stroke-width="5.0"/>
<rect x="652.5" y="1043.9" width="21.5" height="21.5" fill="#fff" stroke="#000" stroke-width="5.0"/>
<rect x="678.6" y="1024.0" width="21.5" height="21.5" fill="#fff" stroke="#000" stroke-width="5.0"/>
<rect x="707.5" y="1002.0" width="21.5" height="21.5" fill="#fff" stroke="#000" stroke-width="5.0"/>
<rect x="737.5" y="979.5" width="21.5" height="21.5" fill="#fff" stroke="#000" stroke-width="5.0"/>
<rect x="756.6" y="965.6" width="21.5" height="21.5" fill="#fff" stroke="#000" stroke-width="5.0"/>
<rect x="858.0" y="896.8" width="21.5" height="21.5" fill="#fff" stroke="#000" stroke-width="5.0"/>
<rect x="927.2" y="841.2" width="21.5" height="21.5" fill="#fff" stroke="#000" stroke-width="5.0"/>
<rect x="1007.6" y="789.6" width="21.5" height="21.5" fill="#fff" stroke="#000" stroke-width="5.0"/>
<rect x="1082.2" y="740.9" width="21.5" height="21.5" fill="#fff" stroke="#000" stroke-width="5.0"/>
<rect x="1159.7" y="684.9" width="21.5" height="21.5" fill="#fff" stroke="#000" stroke-width="5.0"/>
<rect x="1232.2" y="630.9" width="21.5" height="21.5" fill="#fff" stroke="#000" stroke-width="5.0"/>
<rect x="1314.2" y="576.9" width="21.5" height="21.5" fill="#fff" stroke="#000" stroke-width="5.0"/>
<rect x="1387.2" y="536.2" width="21.5" height="21.5" fill="#fff" stroke="#000" stroke-width="5.0"/>
<rect x="1462.2" y="482.1" width="21.5" height="21.5" fill="#fff" stroke="#000" stroke-width="5.0"/>
<rect x="1537.3" y="427.1" width="21.5" height="21.5" fill="#fff" stroke="#000" stroke-width="5.0"/>
<rect x="1616.2" y="379.2" width="21.5" height="21.5" fill="#fff" stroke="#000" stroke-width="5.0"/>
<rect x="1693.8" y="323.9" width="21.5" height="21.5" fill="#fff" stroke="#000" stroke-width="5.0"/>
<rect x="1852.8" y="222.2" width="21.5" height="21.5" fill="#fff" stroke="#000" stroke-width="5.0"/>
<polygon points="252.0,1307.6 282.0,1307.6 267.0,1334.6" fill="#fff" stroke="#000" stroke-width="5.0" stroke-linejoin="round"/>
<polygon points="261.0,1304.8 291.0,1304.8 276.0,1331.8" fill="#fff" stroke="#000" stroke-width="5.0" stroke-linejoin="round"/>
<polygon points="270.0,1301.5 300.0,1301.5 285.0,1328.5" fill="#fff" stroke="#000" stroke-width="5.0" stroke-linejoin="round"/>
<polygon points="279.0,1297.9 309.0,1297.9 294.0,1324.9" fill="#fff" stroke="#000" stroke-width="5.0" stroke-linejoin="round"/>
<polygon points="288.0,1293.6 318.0,1293.6 303.0,1320.6" fill="#fff" stroke="#000" stroke-width="5.0" stroke-linejoin="round"/>
<polygon points="297.0,1288.8 327.0,1288.8 312.0,1315.8" fill="#fff" stroke="#000" stroke-width="5.0" stroke-linejoin="round"/>
<polygon points="306.0,1283.7 336.0,1283.7 321.0,1310.7" fill="#fff" stroke="#000" stroke-width="5.0" stroke-linejoin="round"/>
<polygon points="315.0,1278.6 345.0,1278.6 330.0,1305.6" fill="#fff" stroke="#000" stroke-width="5.0" stroke-linejoin="round"/>
<polygon points="324.0,1273.4 354.0,1273.4 339.0,1300.4" fill="#fff" stroke="#000" stroke-width="5.0" stroke-linejoin="round"/>
<polygon points="333.0,1267.9 363.0,1267.9 348.0,1294.9" fill="#fff" stroke="#000" stroke-width="5.0" stroke-linejoin="round"/>
<polygon points="342.0,1262.3 372.0,1262.3 357.0,1289.3" fill="#fff" stroke="#000" stroke-width="5.0" stroke-linejoin="round"/>
<polygon points="351.0,1256.6 381.0,1256.6 366.0,1283.6" fill="#fff" stroke="#000" stroke-width="5.0" stroke-linejoin="round"/>
<polygon points="360.0,1250.8 390.0,1250.8 375.0,1277.8" fill="#fff" stroke="#000" stroke-width="5.0" stroke-linejoin="round"/>
<polygon points="369.0,1244.9 399.0,1244.9 384.0,1271.9" fill="#fff" stroke="#000" stroke-width="5.0" stroke-linejoin="round"/>
<polygon points="378.0,1238.8 408.0,1238.8 393.0,1265.8" fill="#fff" stroke="#000" stroke-width="5.0" stroke-linejoin="round"/>
<polygon points="387.0,1232.6 417.0,1232.6 402.0,1259.6" fill="#fff" stroke="#000" stroke-width="5.0" stroke-linejoin="round"/>
<polygon points="396.0,1226.4 426.0,1226.4 411.0,1253.4" fill="#fff" stroke="#000" stroke-width="5.0" stroke-linejoin="round"/>
<polygon points="405.0,1220.0 435.0,1220.0 420.0,1247.0" fill="#fff" stroke="#000" stroke-width="5.0" stroke-linejoin="round"/>
<polygon points="414.0,1213.6 444.0,1213.6 429.0,1240.6" fill="#fff" stroke="#000" stroke-width="5.0" stroke-linejoin="round"/>
<polygon points="423.0,1207.1 453.0,1207.1 438.0,1234.1" fill="#fff" stroke="#000" stroke-width="5.0" stroke-linejoin="round"/>
<polygon points="432.0,1200.4 462.0,1200.4 447.0,1227.4" fill="#fff" stroke="#000" stroke-width="5.0" stroke-linejoin="round"/>
<polygon points="441.0,1193.7 471.0,1193.7 456.0,1220.7" fill="#fff" stroke="#000" stroke-width="5.0" stroke-linejoin="round"/>
<polygon points="450.0,1186.9 480.0,1186.9 465.0,1213.9" fill="#fff" stroke="#000" stroke-width="5.0" stroke-linejoin="round"/>
<polygon points="459.0,1180.2 489.0,1180.2 474.0,1207.2" fill="#fff" stroke="#000" stroke-width="5.0" stroke-linejoin="round"/>
<polygon points="468.0,1173.3 498.0,1173.3 483.0,1200.3" fill="#fff" stroke="#000" stroke-width="5.0" stroke-linejoin="round"/>
<polygon points="477.0,1166.3 507.0,1166.3 492.0,1193.3" fill="#fff" stroke="#000" stroke-width="5.0" stroke-linejoin="round"/>
<polygon points="486.0,1159.2 516.0,1159.2 501.0,1186.2" fill="#fff" stroke="#000" stroke-width="5.0" stroke-linejoin="round"/>
<polygon points="495.1,1152.0 525.1,1152.0 510.1,1179.0" fill="#fff" stroke="#000" stroke-width="5.0" stroke-linejoin="round"/>
<polygon points="505.2,1144.3 535.2,1144.3 520.2,1171.3" fill="#fff" stroke="#000" stroke-width="5.0" stroke-linejoin="round"/>
<polygon points="516.3,1135.9 546.3,1135.9 531.3,1162.9" fill="#fff" stroke="#000" stroke-width="5.0" stroke-linejoin="round"/>
<polygon points="528.6,1127.1 558.6,1127.1 543.6,1154.1" fill="#fff" stroke="#000" stroke-width="5.0" stroke-linejoin="round"/>
<polygon points="542.1,1118.2 572.1,1118.2 557.1,1145.2" fill="#fff" stroke="#000" stroke-width="5.0" stroke-linejoin="round"/>
<polygon points="557.1,1109.3 587.1,1109.3 572.1,1136.3" fill="#fff" stroke="#000" stroke-width="5.0" stroke-linejoin="round"/>
<polygon points="573.7,1099.7 603.7,1099.7 588.7,1126.7" fill="#fff" stroke="#000" stroke-width="5.0" stroke-linejoin="round"/>
<polygon points="592.0,1088.1 622.0,1088.1 607.0,1115.1" fill="#fff" stroke="#000" stroke-width="5.0" stroke-linejoin="round"/>
<polygon points="612.3,1073.7 642.3,1073.7 627.3,1100.7" fill="#fff" stroke="#000" stroke-width="5.0" stroke-linejoin="round"/>
<polygon points="634.6,1057.5 664.6,1057.5 649.6,1084.5" fill="#fff" stroke="#000" stroke-width="5.0" stroke-linejoin="round"/>
<polygon points="659.3,1039.1 689.3,1039.1 674.3,1066.1" fill="#fff" stroke="#000" stroke-width="5.0" stroke-linejoin="round"/>
<polygon points="686.7,1018.6 716.7,1018.6 701.7,1045.6" fill="#fff" stroke="#000" stroke-width="5.0" stroke-linejoin="round"/>
<polygon points="723.0,992.3 753.0,992.3 738.0,1019.3" fill="#fff" stroke="#000" stroke-width="5.0" stroke-linejoin="round"/>
<polygon points="778.2,955.7 808.2,955.7 793.2,982.7" fill="#fff" stroke="#000" stroke-width="5.0" stroke-linejoin="round"/>
<polygon points="837.8,914.8 867.8,914.8 852.8,941.8" fill="#fff" stroke="#000" stroke-width="5.0" stroke-linejoin="round"/>
<polygon points="897.5,874.8 927.5,874.8 912.5,901.8" fill="#fff" stroke="#000" stroke-width="5.0" stroke-linejoin="round"/>
<polygon points="961.4,832.1 991.4,832.1 976.4,859.1" fill="#fff" stroke="#000" stroke-width="5.0" stroke-linejoin="round"/>
<polygon points="1018.0,793.5 1048.0,793.5 1033.0,820.5" fill="#fff" stroke="#000" stroke-width="5.0" stroke-linejoin="round"/>
<polygon points="1078.6,751.5 1108.6,751.5 1093.6,778.5" fill="#fff" stroke="#000" stroke-width="5.0" stroke-linejoin="round"/>
<polygon points="1140.6,710.9 1170.6,710.9 1155.6,737.9" fill="#fff" stroke="#000" stroke-width="5.0" stroke-linejoin="round"/>
<polygon points="1202.6,670.5 1232.6,670.5 1217.6,697.5" fill="#fff" stroke="#000" stroke-width="5.0" stroke-linejoin="round"/>
<polygon points="1263.4,631.5 1293.4,631.5 1278.4,658.5" fill="#fff" stroke="#000" stroke-width="5.0" stroke-linejoin="round"/>
<polygon points="1324.0,594.5 1354.0,594.5 1339.0,621.5" fill="#fff" stroke="#000" stroke-width="5.0" stroke-linejoin="round"/>
<polygon points="1382.0,556.5 1412.0,556.5 1397.0,583.5" fill="#fff" stroke="#000" stroke-width="5.0" stroke-linejoin="round"/>
<polygon points="1441.0,518.1 1471.0,518.1 1456.0,545.1" fill="#fff" stroke="#000" stroke-width="5.0" stroke-linejoin="round"/>
<polygon points="1502.1,476.6 1532.1,476.6 1517.1,503.6" fill="#fff" stroke="#000" stroke-width="5.0" stroke-linejoin="round"/>
<polygon points="1565.0,440.2 1595.0,440.2 1580.0,467.2" fill="#fff" stroke="#000" stroke-width="5.0" stroke-linejoin="round"/>
<polygon points="1625.3,397.3 1655.3,397.3 1640.3,424.3" fill="#fff" stroke="#000" stroke-width="5.0" stroke-linejoin="round"/>
<polygon points="1687.0,359.5 1717.0,359.5 1702.0,386.5" fill="#fff" stroke="#000" stroke-width="5.0" stroke-linejoin="round"/>
<polygon points="1747.6,319.5 1777.6,319.5 1762.6,346.5" fill="#fff" stroke="#000" stroke-width="5.0" stroke-linejoin="round"/>
<polygon points="1806.6,283.1 1836.6,283.1 1821.6,310.1" fill="#fff" stroke="#000" stroke-width="5.0" stroke-linejoin="round"/>
<polygon points="1864.3,249.1 1894.3,249.1 1879.3,276.1" fill="#fff" stroke="#000" stroke-width="5.0" stroke-linejoin="round"/>
<polygon points="1924.3,206.1 1954.3,206.1 1939.3,233.1" fill="#fff" stroke="#000" stroke-width="5.0" stroke-linejoin="round"/>
<polygon points="1981.8,170.3 2011.8,170.3 1996.8,197.3" fill="#fff" stroke="#000" stroke-width="5.0" stroke-linejoin="round"/>
<circle cx="266.0" cy="1317.4" r="14.6" fill="#ff00ff"/>
<circle cx="275.0" cy="1314.6" r="14.6" fill="#ff00ff"/>
<circle cx="284.0" cy="1311.4" r="14.6" fill="#ff00ff"/>
<circle cx="293.0" cy="1307.8" r="14.6" fill="#ff00ff"/>
<circle cx="302.0" cy="1303.6" r="14.6" fill="#ff00ff"/>
<circle cx="311.0" cy="1298.9" r="14.6" fill="#ff00ff"/>
<circle cx="320.0" cy="1293.8" r="14.6" fill="#ff00ff"/>
<circle cx="329.0" cy="1288.7" r="14.6" fill="#ff00ff"/>
<circle cx="338.0" cy="1283.5" r="14.6" fill="#ff00ff"/>
<circle cx="347.0" cy="1278.1" r="14.6" fill="#ff00ff"/>
<circle cx="356.0" cy="1272.5" r="14.6" fill="#ff00ff"/>
<circle cx="365.0" cy="1266.7" r="14.6" fill="#ff00ff"/>
<circle cx="374.0" cy="1260.9" r="14.6" fill="#ff00ff"/>
<circle cx="383.0" cy="1255.0" r="14.6" fill="#ff00ff"/>
<circle cx="392.0" cy="1249.0" r="14.6" fill="#ff00ff"/>
<circle cx="401.0" cy="1242.8" r="14.6" fill="#ff00ff"/>
<circle cx="410.0" cy="1236.6" r="14.6" fill="#ff00ff"/>
<circle cx="419.0" cy="1230.2" r="14.6" fill="#ff00ff"/>
<circle cx="428.0" cy="1223.8" r="14.6" fill="#ff00ff"/>
<circle cx="437.0" cy="1217.3" r="14.6" fill="#ff00ff"/>
<circle cx="446.0" cy="1210.8" r="14.6" fill="#ff00ff"/>
<circle cx="455.0" cy="1204.1" r="14.6" fill="#ff00ff"/>
<circle cx="464.0" cy="1197.3" r="14.6" fill="#ff00ff"/>
<circle cx="473.0" cy="1190.4" r="14.6" fill="#ff00ff"/>
<circle cx="482.0" cy="1183.2" r="14.6" fill="#ff00ff"/>
<circle cx="491.0" cy="1176.0" r="14.6" fill="#ff00ff"/>
<circle cx="500.0" cy="1168.6" r="14.6" fill="#ff00ff"/>
<circle cx="509.0" cy="1161.1" r="14.6" fill="#ff00ff"/>
<circle cx="518.5" cy="1153.1" r="14.6" fill="#ff00ff"/>
<circle cx="528.5" cy="1144.6" r="14.6" fill="#ff00ff"/>
<circle cx="539.1" cy="1135.6" r="14.6" fill="#ff00ff"/>
<circle cx="550.2" cy="1126.0" r="14.6" fill="#ff00ff"/>
<circle cx="562.0" cy="1115.7" r="14.6" fill="#ff00ff"/>
<circle cx="574.4" cy="1104.5" r="14.6" fill="#ff00ff"/>
<circle cx="587.5" cy="1092.8" r="14.6" fill="#ff00ff"/>
<circle cx="601.3" cy="1081.2" r="14.6" fill="#ff00ff"/>
<circle cx="615.9" cy="1070.0" r="14.6" fill="#ff00ff"/>
<circle cx="631.3" cy="1058.7" r="14.6" fill="#ff00ff"/>
<circle cx="647.5" cy="1046.1" r="14.6" fill="#ff00ff"/>
<circle cx="664.6" cy="1032.6" r="14.6" fill="#ff00ff"/>
<circle cx="682.6" cy="1017.8" r="14.6" fill="#ff00ff"/>
<circle cx="701.7" cy="1001.5" r="14.6" fill="#ff00ff"/>
<circle cx="721.7" cy="982.6" r="14.6" fill="#ff00ff"/>
<circle cx="741.7" cy="962.9" r="14.6" fill="#ff00ff"/>
<circle cx="764.3" cy="942.0" r="14.6" fill="#ff00ff"/>
<circle cx="784.5" cy="926.0" r="14.6" fill="#ff00ff"/>
<circle cx="812.3" cy="900.5" r="14.6" fill="#ff00ff"/>
<circle cx="830.4" cy="886.7" r="14.6" fill="#ff00ff"/>
<circle cx="851.7" cy="871.7" r="14.6" fill="#ff00ff"/>
<circle cx="873.5" cy="849.0" r="14.6" fill="#ff00ff"/>
<circle cx="916.0" cy="809.0" r="14.6" fill="#ff00ff"/>
<circle cx="984.0" cy="752.0" r="14.6" fill="#ff00ff"/>
<circle cx="984.0" cy="752.0" r="14.6" fill="#ff00ff"/>
<circle cx="1040.4" cy="698.0" r="14.6" fill="#ff00ff"/>
<circle cx="1092.0" cy="656.4" r="14.6" fill="#ff00ff"/>
<circle cx="1143.0" cy="610.0" r="14.6" fill="#ff00ff"/>
<circle cx="1198.0" cy="553.0" r="14.6" fill="#ff00ff"/>
<circle cx="1255.0" cy="505.4" r="14.6" fill="#ff00ff"/>
<circle cx="1307.2" cy="448.2" r="14.6" fill="#ff00ff"/>
<circle cx="1371.0" cy="411.4" r="14.6" fill="#ff00ff"/>
<circle cx="1476.2" cy="308.2" r="14.6" fill="#ff00ff"/>
<circle cx="1601.2" cy="203.3" r="14.6" fill="#ff00ff"/>
<circle cx="1717.5" cy="91.5" r="14.6" fill="#ff00ff"/>
<polygon points="251.5,1305.5 286.5,1305.5 269.0,1334.5" fill="#000"/>
<polygon points="260.5,1302.6 295.5,1302.6 278.0,1331.6" fill="#000"/>
<polygon points="269.5,1299.3 304.5,1299.3 287.0,1328.3" fill="#000"/>
<polygon points="278.5,1295.5 313.5,1295.5 296.0,1324.5" fill="#000"/>
<polygon points="287.5,1291.1 322.5,1291.1 305.0,1320.1" fill="#000"/>
<polygon points="296.5,1286.2 331.5,1286.2 314.0,1315.2" fill="#000"/>
<polygon points="305.5,1281.1 340.5,1281.1 323.0,1310.1" fill="#000"/>
<polygon points="314.5,1276.0 349.5,1276.0 332.0,1305.0" fill="#000"/>
<polygon points="323.5,1270.7 358.5,1270.7 341.0,1299.7" fill="#000"/>
<polygon points="332.5,1265.2 367.5,1265.2 350.0,1294.2" fill="#000"/>
<polygon points="341.5,1259.6 376.5,1259.6 359.0,1288.6" fill="#000"/>
<polygon points="350.5,1253.8 385.5,1253.8 368.0,1282.8" fill="#000"/>
<polygon points="359.5,1248.0 394.5,1248.0 377.0,1277.0" fill="#000"/>
<polygon points="368.5,1242.0 403.5,1242.0 386.0,1271.0" fill="#000"/>
<polygon points="377.5,1236.0 412.5,1236.0 395.0,1265.0" fill="#000"/>
<polygon points="386.5,1229.8 421.5,1229.8 404.0,1258.8" fill="#000"/>
<polygon points="395.5,1223.5 430.5,1223.5 413.0,1252.5" fill="#000"/>
<polygon points="404.5,1217.1 439.5,1217.1 422.0,1246.1" fill="#000"/>
<polygon points="413.5,1210.6 448.5,1210.6 431.0,1239.6" fill="#000"/>
<polygon points="422.5,1204.1 457.5,1204.1 440.0,1233.1" fill="#000"/>
<polygon points="431.5,1197.5 466.5,1197.5 449.0,1226.5" fill="#000"/>
<polygon points="440.5,1190.7 475.5,1190.7 458.0,1219.7" fill="#000"/>
<polygon points="449.5,1184.0 484.5,1184.0 467.0,1213.0" fill="#000"/>
<polygon points="458.5,1177.2 493.5,1177.2 476.0,1206.2" fill="#000"/>
<polygon points="467.5,1170.5 502.5,1170.5 485.0,1199.5" fill="#000"/>
<polygon points="476.5,1163.9 511.5,1163.9 494.0,1192.9" fill="#000"/>
<polygon points="485.5,1157.2 520.5,1157.2 503.0,1186.2" fill="#000"/>
<polygon points="494.8,1150.2 529.8,1150.2 512.3,1179.2" fill="#000"/>
<polygon points="505.1,1142.3 540.1,1142.3 522.6,1171.3" fill="#000"/>
<polygon points="516.5,1133.3 551.5,1133.3 534.0,1162.3" fill="#000"/>
<polygon points="529.1,1122.8 564.1,1122.8 546.6,1151.8" fill="#000"/>
<polygon points="542.9,1109.8 577.9,1109.8 560.4,1138.8" fill="#000"/>
<polygon points="558.3,1093.8 593.3,1093.8 575.8,1122.8" fill="#000"/>
<polygon points="575.2,1076.4 610.2,1076.4 592.7,1105.4" fill="#000"/>
<polygon points="594.0,1060.6 629.0,1060.6 611.5,1089.6" fill="#000"/>
<polygon points="614.7,1045.5 649.7,1045.5 632.2,1074.5" fill="#000"/>
<polygon points="637.6,1027.2 672.6,1027.2 655.1,1056.2" fill="#000"/>
<polygon points="662.8,1005.8 697.8,1005.8 680.3,1034.8" fill="#000"/>
<polygon points="690.8,983.0 725.8,983.0 708.3,1012.0" fill="#000"/>
<polygon points="720.8,960.1 755.8,960.1 738.3,989.1" fill="#000"/>
<polygon points="750.8,937.0 785.8,937.0 768.3,966.0" fill="#000"/>
<polygon points="780.8,912.9 815.8,912.9 798.3,941.9" fill="#000"/>
<polygon points="810.8,887.0 845.8,887.0 828.3,916.0" fill="#000"/>
<polygon points="840.8,859.9 875.8,859.9 858.3,888.9" fill="#000"/>
<polygon points="870.8,831.6 905.8,831.6 888.3,860.6" fill="#000"/>
<polygon points="889.5,815.5 924.5,815.5 907.0,844.5" fill="#000"/>
<polygon points="926.5,789.5 961.5,789.5 944.0,818.5" fill="#000"/>
<polygon points="968.5,747.5 1003.5,747.5 986.0,776.5" fill="#000"/>
<polygon points="1016.5,710.9 1051.5,710.9 1034.0,739.9" fill="#000"/>
<polygon points="1058.9,676.9 1093.9,676.9 1076.4,705.9" fill="#000"/>
<polygon points="1101.5,638.9 1136.5,638.9 1119.0,667.9" fill="#000"/>
<polygon points="1137.5,607.9 1172.5,607.9 1155.0,636.9" fill="#000"/>
<polygon points="1182.1,573.9 1217.1,573.9 1199.6,602.9" fill="#000"/>
<polygon points="1218.9,543.9 1253.9,543.9 1236.4,572.9" fill="#000"/>
<polygon points="1268.5,508.9 1303.5,508.9 1286.0,537.9" fill="#000"/>
<polygon points="1309.5,476.9 1344.5,476.9 1327.0,505.9" fill="#000"/>
<polygon points="1353.5,442.9 1388.5,442.9 1371.0,471.9" fill="#000"/>
<polygon points="1400.5,404.9 1435.5,404.9 1418.0,433.9" fill="#000"/>
<polygon points="1437.5,375.9 1472.5,375.9 1455.0,404.9" fill="#000"/>
<polygon points="1491.8,336.0 1526.8,336.0 1509.3,365.0" fill="#000"/>
<polygon points="1549.7,290.2 1584.7,290.2 1567.2,319.2" fill="#000"/>
<polygon points="1602.3,249.1 1637.3,249.1 1619.8,278.1" fill="#000"/>
<polygon points="1656.4,210.4 1691.4,210.4 1673.9,239.4" fill="#000"/>
<polygon points="1705.9,170.2 1740.9,170.2 1723.4,199.2" fill="#000"/>
<polygon points="1754.2,133.4 1789.2,133.4 1771.7,162.4" fill="#000"/>
<polygon points="1798.9,100.1 1833.9,100.1 1816.4,129.1" fill="#000"/>
<polygon points="1841.0,72.1 1876.0,72.1 1858.5,101.1" fill="#000"/>
<polygon points="1889.0,35.5 1924.0,35.5 1906.5,64.5" fill="#000"/>
<polygon points="253.5,1324.9 288.5,1324.9 271.0,1295.9" fill="#000"/>
<polygon points="262.5,1321.9 297.5,1321.9 280.0,1292.9" fill="#000"/>
<polygon points="271.5,1318.5 306.5,1318.5 289.0,1289.5" fill="#000"/>
<polygon points="280.5,1314.6 315.5,1314.6 298.0,1285.6" fill="#000"/>
<polygon points="289.5,1310.0 324.5,1310.0 307.0,1281.0" fill="#000"/>
<polygon points="298.5,1305.1 333.5,1305.1 316.0,1276.1" fill="#000"/>
<polygon points="307.5,1299.9 342.5,1299.9 325.0,1270.9" fill="#000"/>
<polygon points="316.5,1294.8 351.5,1294.8 334.0,1265.8" fill="#000"/>
<polygon points="325.5,1289.5 360.5,1289.5 343.0,1260.5" fill="#000"/>
<polygon points="334.5,1284.0 369.5,1284.0 352.0,1255.0" fill="#000"/>
<polygon points="343.5,1278.3 378.5,1278.3 361.0,1249.3" fill="#000"/>
<polygon points="352.5,1272.5 387.5,1272.5 370.0,1243.5" fill="#000"/>
<polygon points="361.5,1266.7 396.5,1266.7 379.0,1237.7" fill="#000"/>
<polygon points="370.5,1260.7 405.5,1260.7 388.0,1231.7" fill="#000"/>
<polygon points="379.5,1254.6 414.5,1254.6 397.0,1225.6" fill="#000"/>
<polygon points="388.5,1248.4 423.5,1248.4 406.0,1219.4" fill="#000"/>
<polygon points="397.5,1242.0 432.5,1242.0 415.0,1213.0" fill="#000"/>
<polygon points="406.5,1235.6 441.5,1235.6 424.0,1206.6" fill="#000"/>
<polygon points="415.5,1229.2 450.5,1229.2 433.0,1200.2" fill="#000"/>
<polygon points="424.5,1222.7 459.5,1222.7 442.0,1193.7" fill="#000"/>
<polygon points="433.5,1216.0 468.5,1216.0 451.0,1187.0" fill="#000"/>
<polygon points="442.5,1209.3 477.5,1209.3 460.0,1180.3" fill="#000"/>
<polygon points="451.5,1202.5 486.5,1202.5 469.0,1173.5" fill="#000"/>
<polygon points="460.5,1195.5 495.5,1195.5 478.0,1166.5" fill="#000"/>
<polygon points="469.5,1188.5 504.5,1188.5 487.0,1159.5" fill="#000"/>
<polygon points="478.5,1181.5 513.5,1181.5 496.0,1152.5" fill="#000"/>
<polygon points="487.5,1174.4 522.5,1174.4 505.0,1145.4" fill="#000"/>
<polygon points="497.0,1166.7 532.0,1166.7 514.5,1137.7" fill="#000"/>
<polygon points="507.6,1158.2 542.6,1158.2 525.1,1129.2" fill="#000"/>
<polygon points="519.2,1148.7 554.2,1148.7 536.7,1119.7" fill="#000"/>
<polygon points="532.0,1138.1 567.0,1138.1 549.5,1109.1" fill="#000"/>
<polygon points="546.2,1126.0 581.2,1126.0 563.7,1097.0" fill="#000"/>
<polygon points="561.9,1112.3 596.9,1112.3 579.4,1083.3" fill="#000"/>
<polygon points="579.3,1097.4 614.3,1097.4 596.8,1068.4" fill="#000"/>
<polygon points="598.4,1082.1 633.4,1082.1 615.9,1053.1" fill="#000"/>
<polygon points="619.6,1065.8 654.6,1065.8 637.1,1036.8" fill="#000"/>
<polygon points="643.0,1047.3 678.0,1047.3 660.5,1018.3" fill="#000"/>
<polygon points="668.8,1026.6 703.8,1026.6 686.3,997.6" fill="#000"/>
<polygon points="697.4,1003.3 732.4,1003.3 714.9,974.3" fill="#000"/>
<polygon points="719.3,985.0 754.3,985.0 736.8,956.0" fill="#000"/>
<polygon points="753.2,956.2 788.2,956.2 770.7,927.2" fill="#000"/>
<polygon points="785.7,925.3 820.7,925.3 803.2,896.3" fill="#000"/>
<polygon points="817.7,901.3 852.7,901.3 835.2,872.3" fill="#000"/>
<polygon points="851.5,870.1 886.5,870.1 869.0,841.1" fill="#000"/>
<polygon points="886.5,836.1 921.5,836.1 904.0,807.1" fill="#000"/>
<polygon points="918.5,810.1 953.5,810.1 936.0,781.1" fill="#000"/>
<polygon points="951.5,776.1 986.5,776.1 969.0,747.1" fill="#000"/>
<polygon points="985.5,752.1 1020.5,752.1 1003.0,723.1" fill="#000"/>
<polygon points="1052.9,688.1 1087.9,688.1 1070.4,659.1" fill="#000"/>
<polygon points="1118.1,626.9 1153.1,626.9 1135.6,597.9" fill="#000"/>
<polygon points="1184.9,558.9 1219.9,558.9 1202.4,529.9" fill="#000"/>
<polygon points="1253.5,503.7 1288.5,503.7 1271.0,474.7" fill="#000"/>
<polygon points="1326.5,437.7 1361.5,437.7 1344.0,408.7" fill="#000"/>
<polygon points="1372.5,381.7 1407.5,381.7 1390.0,352.7" fill="#000"/>
<polygon points="1474.5,308.7 1509.5,308.7 1492.0,279.7" fill="#000"/>
<polygon points="1550.2,247.0 1585.2,247.0 1567.7,218.0" fill="#000"/>
<polygon points="1627.4,187.2 1662.4,187.2 1644.9,158.2" fill="#000"/>
<polygon points="1705.4,127.2 1740.4,127.2 1722.9,98.2" fill="#000"/>
<polygon points="1780.0,59.5 1815.0,59.5 1797.5,30.5" fill="#000"/>
<rect x="262.2" y="1300.9" width="25.5" height="25.5" fill="#000"/>
<rect x="271.2" y="1297.7" width="25.5" height="25.5" fill="#000"/>
<rect x="280.2" y="1294.1" width="25.5" height="25.5" fill="#000"/>
<rect x="289.2" y="1289.8" width="25.5" height="25.5" fill="#000"/>
<rect x="298.2" y="1285.1" width="25.5" height="25.5" fill="#000"/>
<rect x="307.2" y="1280.1" width="25.5" height="25.5" fill="#000"/>
<rect x="316.2" y="1274.9" width="25.5" height="25.5" fill="#000"/>
<rect x="325.2" y="1269.7" width="25.5" height="25.5" fill="#000"/>
<rect x="334.2" y="1264.3" width="25.5" height="25.5" fill="#000"/>
<rect x="343.2" y="1258.7" width="25.5" height="25.5" fill="#000"/>
<rect x="352.2" y="1253.0" width="25.5" height="25.5" fill="#000"/>
<rect x="361.2" y="1247.2" width="25.5" height="25.5" fill="#000"/>
<rect x="370.2" y="1241.3" width="25.5" height="25.5" fill="#000"/>
<rect x="379.2" y="1235.2" width="25.5" height="25.5" fill="#000"/>
<rect x="388.2" y="1229.1" width="25.5" height="25.5" fill="#000"/>
<rect x="397.2" y="1222.8" width="25.5" height="25.5" fill="#000"/>
<rect x="406.2" y="1216.5" width="25.5" height="25.5" fill="#000"/>
<rect x="415.2" y="1210.0" width="25.5" height="25.5" fill="#000"/>
<rect x="424.2" y="1203.6" width="25.5" height="25.5" fill="#000"/>
<rect x="433.2" y="1197.0" width="25.5" height="25.5" fill="#000"/>
<rect x="442.2" y="1190.3" width="25.5" height="25.5" fill="#000"/>
<rect x="451.2" y="1183.5" width="25.5" height="25.5" fill="#000"/>
<rect x="460.2" y="1176.6" width="25.5" height="25.5" fill="#000"/>
<rect x="469.2" y="1169.7" width="25.5" height="25.5" fill="#000"/>
<rect x="478.2" y="1162.7" width="25.5" height="25.5" fill="#000"/>
<rect x="487.2" y="1155.7" width="25.5" height="25.5" fill="#000"/>
<rect x="496.2" y="1148.6" width="25.5" height="25.5" fill="#000"/>
<rect x="506.2" y="1140.6" width="25.5" height="25.5" fill="#000"/>
<rect x="517.2" y="1131.6" width="25.5" height="25.5" fill="#000"/>
<rect x="529.3" y="1121.3" width="25.5" height="25.5" fill="#000"/>
<rect x="542.7" y="1109.6" width="25.5" height="25.5" fill="#000"/>
<rect x="557.6" y="1095.4" width="25.5" height="25.5" fill="#000"/>
<rect x="574.0" y="1079.5" width="25.5" height="25.5" fill="#000"/>
<rect x="592.1" y="1063.5" width="25.5" height="25.5" fill="#000"/>
<rect x="612.1" y="1048.0" width="25.5" height="25.5" fill="#000"/>
<rect x="634.2" y="1030.6" width="25.5" height="25.5" fill="#000"/>
<rect x="658.6" y="1010.1" width="25.5" height="25.5" fill="#000"/>
<rect x="685.6" y="987.6" width="25.5" height="25.5" fill="#000"/>
<rect x="715.4" y="964.5" width="25.5" height="25.5" fill="#000"/>
<rect x="742.6" y="942.8" width="25.5" height="25.5" fill="#000"/>
<rect x="776.5" y="911.2" width="25.5" height="25.5" fill="#000"/>
<rect x="810.8" y="882.2" width="25.5" height="25.5" fill="#000"/>
<rect x="846.2" y="850.2" width="25.5" height="25.5" fill="#000"/>
<rect x="879.2" y="823.2" width="25.5" height="25.5" fill="#000"/>
<rect x="914.2" y="793.2" width="25.5" height="25.5" fill="#000"/>
<rect x="984.2" y="733.2" width="25.5" height="25.5" fill="#000"/>
<rect x="1051.2" y="674.2" width="25.5" height="25.5" fill="#000"/>
<rect x="1096.8" y="635.2" width="25.5" height="25.5" fill="#000"/>
<rect x="1166.8" y="569.2" width="25.5" height="25.5" fill="#000"/>
<rect x="1235.2" y="509.2" width="25.5" height="25.5" fill="#000"/>
<rect x="1313.2" y="447.2" width="25.5" height="25.5" fill="#000"/>
<rect x="1381.2" y="398.1" width="25.5" height="25.5" fill="#000"/>
<rect x="1455.2" y="335.2" width="25.5" height="25.5" fill="#000"/>
<rect x="1596.2" y="216.2" width="25.5" height="25.5" fill="#000"/>
<rect x="1738.8" y="108.2" width="25.5" height="25.5" fill="#000"/>
<polygon points="273.0,1295.4 277.5,1305.6 288.6,1306.7 280.3,1314.2 282.6,1325.1 273.0,1319.5 263.4,1325.1 265.7,1314.2 257.4,1306.7 268.5,1305.6" fill="#0000ff"/>
<polygon points="282.0,1292.3 286.5,1302.4 297.6,1303.6 289.3,1311.1 291.6,1321.9 282.0,1316.4 272.4,1321.9 274.7,1311.1 266.4,1303.6 277.5,1302.4" fill="#0000ff"/>
<polygon points="291.0,1288.8 295.5,1298.9 306.6,1300.1 298.3,1307.6 300.6,1318.4 291.0,1312.9 281.4,1318.4 283.7,1307.6 275.4,1300.1 286.5,1298.9" fill="#0000ff"/>
<polygon points="300.0,1284.7 304.5,1294.9 315.6,1296.0 307.3,1303.5 309.6,1314.4 300.0,1308.8 290.4,1314.4 292.7,1303.5 284.4,1296.0 295.5,1294.9" fill="#0000ff"/>
<polygon points="309.0,1280.0 313.5,1290.2 324.6,1291.4 316.3,1298.8 318.6,1309.7 309.0,1304.1 299.4,1309.7 301.7,1298.8 293.4,1291.4 304.5,1290.2" fill="#0000ff"/>
<polygon points="318.0,1275.0 322.5,1285.2 333.6,1286.4 325.3,1293.8 327.6,1304.7 318.0,1299.2 308.4,1304.7 310.7,1293.8 302.4,1286.4 313.5,1285.2" fill="#0000ff"/>
<polygon points="327.0,1269.9 331.5,1280.1 342.6,1281.2 334.3,1288.7 336.6,1299.6 327.0,1294.0 317.4,1299.6 319.7,1288.7 311.4,1281.2 322.5,1280.1" fill="#0000ff"/>
<polygon points="336.0,1264.7 340.5,1274.9 351.6,1276.1 343.3,1283.5 345.6,1294.4 336.0,1288.8 326.4,1294.4 328.7,1283.5 320.4,1276.1 331.5,1274.9" fill="#0000ff"/>
<polygon points="345.0,1259.4 349.5,1269.5 360.6,1270.7 352.3,1278.2 354.6,1289.0 345.0,1283.5 335.4,1289.0 337.7,1278.2 329.4,1270.7 340.5,1269.5" fill="#0000ff"/>
<polygon points="354.0,1253.8 358.5,1264.0 369.6,1265.2 361.3,1272.6 363.6,1283.5 354.0,1277.9 344.4,1283.5 346.7,1272.6 338.4,1265.2 349.5,1264.0" fill="#0000ff"/>
<polygon points="363.0,1248.1 367.5,1258.3 378.6,1259.5 370.3,1266.9 372.6,1277.8 363.0,1272.2 353.4,1277.8 355.7,1266.9 347.4,1259.5 358.5,1258.3" fill="#0000ff"/>
<polygon points="372.0,1242.3 376.5,1252.5 387.6,1253.7 379.3,1261.1 381.6,1272.0 372.0,1266.4 362.4,1272.0 364.7,1261.1 356.4,1253.7 367.5,1252.5" fill="#0000ff"/>
<polygon points="381.0,1236.4 385.5,1246.6 396.6,1247.8 388.3,1255.2 390.6,1266.1 381.0,1260.5 371.4,1266.1 373.7,1255.2 365.4,1247.8 376.5,1246.6" fill="#0000ff"/>
<polygon points="390.0,1230.4 394.5,1240.6 405.6,1241.8 397.3,1249.2 399.6,1260.1 390.0,1254.6 380.4,1260.1 382.7,1249.2 374.4,1241.8 385.5,1240.6" fill="#0000ff"/>
<polygon points="399.0,1224.3 403.5,1234.5 414.6,1235.6 406.3,1243.1 408.6,1254.0 399.0,1248.4 389.4,1254.0 391.7,1243.1 383.4,1235.6 394.5,1234.5" fill="#0000ff"/>
<polygon points="408.0,1218.1 412.5,1228.2 423.6,1229.4 415.3,1236.8 417.6,1247.7 408.0,1242.2 398.4,1247.7 400.7,1236.8 392.4,1229.4 403.5,1228.2" fill="#0000ff"/>
<polygon points="417.0,1211.7 421.5,1221.9 432.6,1223.1 424.3,1230.5 426.6,1241.4 417.0,1235.8 407.4,1241.4 409.7,1230.5 401.4,1223.1 412.5,1221.9" fill="#0000ff"/>
<polygon points="426.0,1205.3 430.5,1215.5 441.6,1216.7 433.3,1224.1 435.6,1235.0 426.0,1229.4 416.4,1235.0 418.7,1224.1 410.4,1216.7 421.5,1215.5" fill="#0000ff"/>
<polygon points="435.0,1198.9 439.5,1209.0 450.6,1210.2 442.3,1217.6 444.6,1228.5 435.0,1223.0 425.4,1228.5 427.7,1217.6 419.4,1210.2 430.5,1209.0" fill="#0000ff"/>
<polygon points="444.0,1192.3 448.5,1202.5 459.6,1203.6 451.3,1211.1 453.6,1222.0 444.0,1216.4 434.4,1222.0 436.7,1211.1 428.4,1203.6 439.5,1202.5" fill="#0000ff"/>
<polygon points="453.0,1185.6 457.5,1195.8 468.6,1197.0 460.3,1204.4 462.6,1215.3 453.0,1209.7 443.4,1215.3 445.7,1204.4 437.4,1197.0 448.5,1195.8" fill="#0000ff"/>
<polygon points="462.0,1178.9 466.5,1189.0 477.6,1190.2 469.3,1197.7 471.6,1208.5 462.0,1203.0 452.4,1208.5 454.7,1197.7 446.4,1190.2 457.5,1189.0" fill="#0000ff"/>
<polygon points="471.0,1172.0 475.5,1182.2 486.6,1183.4 478.3,1190.8 480.6,1201.7 471.0,1196.1 461.4,1201.7 463.7,1190.8 455.4,1183.4 466.5,1182.2" fill="#0000ff"/>
<polygon points="480.0,1165.2 484.5,1175.3 495.6,1176.5 487.3,1183.9 489.6,1194.8 480.0,1189.3 470.4,1194.8 472.7,1183.9 464.4,1176.5 475.5,1175.3" fill="#0000ff"/>
<polygon points="489.0,1158.2 493.5,1168.4 504.6,1169.6 496.3,1177.0 498.6,1187.9 489.0,1182.3 479.4,1187.9 481.7,1177.0 473.4,1169.6 484.5,1168.4" fill="#0000ff"/>
<polygon points="498.0,1151.3 502.5,1161.4 513.6,1162.6 505.3,1170.1 507.6,1181.0 498.0,1175.4 488.4,1181.0 490.7,1170.1 482.4,1162.6 493.5,1161.4" fill="#0000ff"/>
<polygon points="507.0,1144.3 511.5,1154.4 522.6,1155.6 514.3,1163.0 516.6,1173.9 507.0,1168.4 497.4,1173.9 499.7,1163.0 491.4,1155.6 502.5,1154.4" fill="#0000ff"/>
<polygon points="516.2,1137.0 520.7,1147.2 531.8,1148.3 523.5,1155.8 525.8,1166.7 516.2,1161.1 506.6,1166.7 508.9,1155.8 500.6,1148.3 511.7,1147.2" fill="#0000ff"/>
<polygon points="525.7,1129.4 530.2,1139.6 541.3,1140.7 533.0,1148.2 535.3,1159.1 525.7,1153.5 516.1,1159.1 518.4,1148.2 510.1,1140.7 521.2,1139.6" fill="#0000ff"/>
<polygon points="535.5,1121.5 540.0,1131.6 551.1,1132.8 542.8,1140.2 545.1,1151.1 535.5,1145.6 525.8,1151.1 528.1,1140.2 519.9,1132.8 530.9,1131.6" fill="#0000ff"/>
<polygon points="545.5,1113.1 550.1,1123.3 561.1,1124.4 552.9,1131.9 555.2,1142.8 545.5,1137.2 535.9,1142.8 538.2,1131.9 529.9,1124.4 541.0,1123.3" fill="#0000ff"/>
<polygon points="555.9,1104.2 560.4,1114.4 571.5,1115.5 563.2,1123.0 565.5,1133.9 555.9,1128.3 546.3,1133.9 548.6,1123.0 540.3,1115.5 551.4,1114.4" fill="#0000ff"/>
<polygon points="566.6,1094.3 571.1,1104.4 582.2,1105.6 573.9,1113.0 576.2,1123.9 566.6,1118.4 556.9,1123.9 559.2,1113.0 551.0,1105.6 562.0,1104.4" fill="#0000ff"/>
<polygon points="577.6,1083.8 582.1,1094.0 593.2,1095.1 584.9,1102.6 587.2,1113.5 577.6,1107.9 567.9,1113.5 570.2,1102.6 562.0,1095.1 573.0,1094.0" fill="#0000ff"/>
<polygon points="588.9,1073.4 593.4,1083.6 604.5,1084.8 596.2,1092.2 598.5,1103.1 588.9,1097.5 579.3,1103.1 581.6,1092.2 573.3,1084.8 584.4,1083.6" fill="#0000ff"/>
<polygon points="600.6,1063.9 605.1,1074.1 616.2,1075.3 607.9,1082.7 610.2,1093.6 600.6,1088.0 590.9,1093.6 593.2,1082.7 585.0,1075.3 596.0,1074.1" fill="#0000ff"/>
<polygon points="612.6,1055.5 617.1,1065.7 628.2,1066.9 619.9,1074.3 622.2,1085.2 612.6,1079.6 602.9,1085.2 605.3,1074.3 597.0,1066.9 608.1,1065.7" fill="#0000ff"/>
<polygon points="625.0,1047.7 629.5,1057.9 640.6,1059.1 632.3,1066.5 634.6,1077.4 625.0,1071.8 615.3,1077.4 617.6,1066.5 609.4,1059.1 620.4,1057.9" fill="#0000ff"/>
<polygon points="637.7,1040.1 642.2,1050.3 653.3,1051.4 645.0,1058.9 647.3,1069.8 637.7,1064.2 628.1,1069.8 630.4,1058.9 622.1,1051.4 633.2,1050.3" fill="#0000ff"/>
<polygon points="650.8,1032.2 655.4,1042.4 666.4,1043.5 658.2,1051.0 660.5,1061.9 650.8,1056.3 641.2,1061.9 643.5,1051.0 635.2,1043.5 646.3,1042.4" fill="#0000ff"/>
<polygon points="662.8,1024.5 667.3,1034.7 678.4,1035.8 670.1,1043.3 672.4,1054.2 662.8,1048.6 653.2,1054.2 655.5,1043.3 647.2,1035.8 658.3,1034.7" fill="#0000ff"/>
<polygon points="681.4,1011.3 685.9,1021.5 697.0,1022.6 688.7,1030.1 691.0,1041.0 681.4,1035.4 671.8,1041.0 674.1,1030.1 665.8,1022.6 676.9,1021.5" fill="#0000ff"/>
<polygon points="703.9,992.7 708.4,1002.9 719.5,1004.0 711.2,1011.5 713.5,1022.4 703.9,1016.8 694.3,1022.4 696.6,1011.5 688.3,1004.0 699.4,1002.9" fill="#0000ff"/>
<polygon points="726.0,970.1 730.5,980.3 741.6,981.4 733.3,988.9 735.6,999.8 726.0,994.2 716.4,999.8 718.7,988.9 710.4,981.4 721.5,980.3" fill="#0000ff"/>
<polygon points="744.5,953.7 749.0,963.9 760.1,965.0 751.8,972.5 754.1,983.4 744.5,977.8 734.9,983.4 737.2,972.5 728.9,965.0 740.0,963.9" fill="#0000ff"/>
<polygon points="757.3,938.8 761.8,949.0 772.9,950.1 764.6,957.6 766.9,968.5 757.3,962.9 747.7,968.5 750.0,957.6 741.7,950.1 752.8,949.0" fill="#0000ff"/>
<polygon points="779.0,923.1 783.5,933.3 794.6,934.4 786.3,941.9 788.6,952.8 779.0,947.2 769.4,952.8 771.7,941.9 763.4,934.4 774.5,933.3" fill="#0000ff"/>
<polygon points="794.0,913.1 798.5,923.3 809.6,924.4 801.3,931.9 803.6,942.8 794.0,937.2 784.4,942.8 786.7,931.9 778.4,924.4 789.5,923.3" fill="#0000ff"/>
<polygon points="823.0,892.1 827.5,902.3 838.6,903.4 830.3,910.9 832.6,921.8 823.0,916.2 813.4,921.8 815.7,910.9 807.4,903.4 818.5,902.3" fill="#0000ff"/>
<polygon points="836.3,882.5 840.8,892.7 851.9,893.8 843.6,901.3 845.9,912.2 836.3,906.6 826.7,912.2 829.0,901.3 820.7,893.8 831.8,892.7" fill="#0000ff"/>
<polygon points="858.7,863.3 863.2,873.5 874.3,874.6 866.0,882.1 868.3,893.0 858.7,887.4 849.1,893.0 851.4,882.1 843.1,874.6 854.2,873.5" fill="#0000ff"/>
<polygon points="875.7,850.5 880.2,860.7 891.3,861.8 883.0,869.3 885.3,880.2 875.7,874.6 866.1,880.2 868.4,869.3 860.1,861.8 871.2,860.7" fill="#0000ff"/>
<polygon points="899.0,832.1 903.5,842.3 914.6,843.4 906.3,850.9 908.6,861.8 899.0,856.2 889.4,861.8 891.7,850.9 883.4,843.4 894.5,842.3" fill="#0000ff"/>
<polygon points="935.0,805.1 939.5,815.3 950.6,816.4 942.3,823.9 944.6,834.8 935.0,829.2 925.4,834.8 927.7,823.9 919.4,816.4 930.5,815.3" fill="#0000ff"/>
<polygon points="959.0,787.1 963.5,797.3 974.6,798.4 966.3,805.9 968.6,816.8 959.0,811.2 949.4,816.8 951.7,805.9 943.4,798.4 954.5,797.3" fill="#0000ff"/>
<polygon points="993.0,761.1 997.5,771.3 1008.6,772.4 1000.3,779.9 1002.6,790.8 993.0,785.2 983.4,790.8 985.7,779.9 977.4,772.4 988.5,771.3" fill="#0000ff"/>
<polygon points="1029.0,734.1 1033.5,744.3 1044.6,745.4 1036.3,752.9 1038.6,763.8 1029.0,758.2 1019.4,763.8 1021.7,752.9 1013.4,745.4 1024.5,744.3" fill="#0000ff"/>
<polygon points="1064.4,706.1 1068.9,716.3 1080.0,717.4 1071.7,724.9 1074.0,735.8 1064.4,730.2 1054.8,735.8 1057.1,724.9 1048.8,717.4 1059.9,716.3" fill="#0000ff"/>
<polygon points="1098.6,679.1 1103.1,689.3 1114.2,690.4 1105.9,697.9 1108.2,708.8 1098.6,703.2 1089.0,708.8 1091.3,697.9 1083.0,690.4 1094.1,689.3" fill="#0000ff"/>
<polygon points="1137.0,652.1 1141.5,662.3 1152.6,663.4 1144.3,670.9 1146.6,681.8 1137.0,676.2 1127.4,681.8 1129.7,670.9 1121.4,663.4 1132.5,662.3" fill="#0000ff"/>
<polygon points="1183.6,621.1 1188.1,631.3 1199.2,632.4 1190.9,639.9 1193.2,650.8 1183.6,645.2 1174.0,650.8 1176.3,639.9 1168.0,632.4 1179.1,631.3" fill="#0000ff"/>
<polygon points="1220.0,592.1 1224.5,602.3 1235.6,603.4 1227.3,610.9 1229.6,621.8 1220.0,616.2 1210.4,621.8 1212.7,610.9 1204.4,603.4 1215.5,602.3" fill="#0000ff"/>
<polygon points="1244.6,572.1 1249.1,582.3 1260.2,583.4 1251.9,590.9 1254.2,601.8 1244.6,596.2 1235.0,601.8 1237.3,590.9 1229.0,583.4 1240.1,582.3" fill="#0000ff"/>
<polygon points="1290.0,543.1 1294.5,553.3 1305.6,554.4 1297.3,561.9 1299.6,572.8 1290.0,567.2 1280.4,572.8 1282.7,561.9 1274.4,554.4 1285.5,553.3" fill="#0000ff"/>
<polygon points="1323.0,519.7 1327.5,529.9 1338.6,531.0 1330.3,538.5 1332.6,549.4 1323.0,543.8 1313.4,549.4 1315.7,538.5 1307.4,531.0 1318.5,529.9" fill="#0000ff"/>
<polygon points="1369.0,488.5 1373.5,498.7 1384.6,499.8 1376.3,507.3 1378.6,518.2 1369.0,512.6 1359.4,518.2 1361.7,507.3 1353.4,499.8 1364.5,498.7" fill="#0000ff"/>
<polygon points="1413.0,456.7 1417.5,466.9 1428.6,468.0 1420.3,475.5 1422.6,486.4 1413.0,480.8 1403.4,486.4 1405.7,475.5 1397.4,468.0 1408.5,466.9" fill="#0000ff"/>
<polygon points="1460.0,422.7 1464.5,432.9 1475.6,434.0 1467.3,441.5 1469.6,452.4 1460.0,446.8 1450.4,452.4 1452.7,441.5 1444.4,434.0 1455.5,432.9" fill="#0000ff"/>
<polygon points="1506.3,393.9 1510.8,404.1 1521.9,405.2 1513.6,412.7 1515.9,423.6 1506.3,418.0 1496.7,423.6 1499.0,412.7 1490.7,405.2 1501.8,404.1" fill="#0000ff"/>
<polygon points="1562.2,351.7 1566.7,361.9 1577.8,363.0 1569.5,370.5 1571.8,381.4 1562.2,375.8 1552.6,381.4 1554.9,370.5 1546.6,363.0 1557.7,361.9" fill="#0000ff"/>
<polygon points="1626.0,309.4 1630.5,319.6 1641.6,320.7 1633.3,328.2 1635.6,339.1 1626.0,333.5 1616.4,339.1 1618.7,328.2 1610.4,320.7 1621.5,319.6" fill="#0000ff"/>
<polygon points="1664.0,288.8 1668.5,299.0 1679.6,300.1 1671.3,307.6 1673.6,318.5 1664.0,312.9 1654.4,318.5 1656.7,307.6 1648.4,300.1 1659.5,299.0" fill="#0000ff"/>
<polygon points="1698.0,260.9 1702.5,271.1 1713.6,272.2 1705.3,279.7 1707.6,290.6 1698.0,285.0 1688.4,290.6 1690.7,279.7 1682.4,272.2 1693.5,271.1" fill="#0000ff"/>
<polygon points="1733.6,240.0 1738.1,250.2 1749.2,251.3 1740.9,258.8 1743.2,269.7 1733.6,264.1 1724.0,269.7 1726.3,258.8 1718.0,251.3 1729.1,250.2" fill="#0000ff"/>
<polygon points="1779.3,203.9 1783.8,214.1 1794.9,215.2 1786.6,222.7 1788.9,233.6 1779.3,228.0 1769.7,233.6 1772.0,222.7 1763.7,215.2 1774.8,214.1" fill="#0000ff"/>
<polygon points="1805.6,190.8 1810.1,201.0 1821.2,202.1 1812.9,209.6 1815.2,220.5 1805.6,214.9 1796.0,220.5 1798.3,209.6 1790.0,202.1 1801.1,201.0" fill="#0000ff"/>
<polygon points="1846.3,165.9 1850.8,176.1 1861.9,177.2 1853.6,184.7 1855.9,195.6 1846.3,190.0 1836.7,195.6 1839.0,184.7 1830.7,177.2 1841.8,176.1" fill="#0000ff"/>
<polygon points="1880.2,140.8 1884.7,151.0 1895.8,152.1 1887.5,159.6 1889.8,170.5 1880.2,164.9 1870.6,170.5 1872.9,159.6 1864.6,152.1 1875.7,151.0" fill="#0000ff"/>
<polygon points="1911.3,121.0 1915.8,131.2 1926.9,132.3 1918.6,139.8 1920.9,150.7 1911.3,145.1 1901.7,150.7 1904.0,139.8 1895.7,132.3 1906.8,131.2" fill="#0000ff"/>
<polygon points="1951.5,103.0 1956.0,113.2 1967.1,114.3 1958.8,121.8 1961.1,132.7 1951.5,127.1 1941.9,132.7 1944.2,121.8 1935.9,114.3 1947.0,113.2" fill="#0000ff"/>
<polygon points="1988.0,74.5 1992.5,84.7 2003.6,85.8 1995.3,93.3 1997.6,104.2 1988.0,98.6 1978.4,104.2 1980.7,93.3 1972.4,85.8 1983.5,84.7" fill="#0000ff"/>
<polyline points="264.5,1317.5 267.9,1316.7 271.4,1315.6 274.8,1314.4 278.3,1313.0 281.7,1311.5 285.2,1310.0 288.6,1308.4 292.1,1306.7 295.5,1304.9 299.0,1303.1 302.4,1301.3 305.9,1299.4 309.3,1297.5 312.7,1295.5 316.2,1293.5 319.6,1291.4 323.1,1289.3 326.5,1287.2 330.0,1285.1 333.4,1282.9 336.9,1280.7 340.3,1278.5 343.8,1276.2 347.2,1273.9 350.6,1271.6 354.1,1269.3 357.5,1266.9 361.0,1264.5 364.4,1262.1 367.9,1259.7 371.3,1257.2 374.8,1254.7 378.2,1252.2 381.7,1249.7 385.1,1247.2 388.6,1244.6 392.0,1242.0 395.4,1239.5 398.9,1236.8 402.3,1234.2 405.8,1231.6 409.2,1228.9 412.7,1226.2 416.1,1223.5 419.6,1220.8 423.0,1218.1 426.5,1215.3 429.9,1212.6 433.4,1209.8 436.8,1207.0 440.2,1204.2 443.7,1201.3 447.1,1198.5 450.6,1195.7 454.0,1192.8 457.5,1189.9 460.9,1187.0 464.4,1184.1 467.8,1181.2 471.3,1178.2 474.7,1175.3 478.2,1172.3 481.6,1169.4 485.0,1166.4 488.5,1163.4 491.9,1160.4 495.4,1157.3 498.8,1154.3 502.3,1151.3 505.7,1148.2 509.2,1145.1 512.6,1142.0 516.1,1138.9 519.5,1135.8 523.0,1132.7 526.4,1129.6 529.8,1126.5 533.3,1123.3 536.7,1120.1 540.2,1117.0 543.6,1113.8 547.1,1110.6 550.5,1107.4 554.0,1104.2 557.4,1101.0 560.9,1097.7 564.3,1094.5 567.7,1091.2 571.2,1088.0 574.6,1084.7 578.1,1081.4 581.5,1078.1 585.0,1074.8 588.4,1071.5 591.9,1068.2 595.3,1064.8 598.8,1061.5 602.2,1058.1 605.7,1054.8 609.1,1051.4 612.5,1048.0 616.0,1044.7 619.4,1041.3 622.9,1037.9 626.3,1034.4 629.8,1031.0 633.2,1027.6 636.7,1024.2 640.1,1020.7 643.6,1017.3 647.0,1013.8 650.5,1010.3 653.9,1006.8 657.3,1003.3 660.8,999.8 664.2,996.3 667.7,992.8 671.1,989.3 674.6,985.8 678.0,982.2 681.5,978.7 684.9,975.1 688.4,971.6 691.8,968.0 695.2,964.4 698.7,960.8 702.1,957.3 705.6,953.7 709.0,950.1 712.5,946.4 715.9,942.8 719.4,939.2 722.8,935.5 726.3,931.9 729.7,928.3 733.2,924.6 736.6,920.9 740.0,917.3 743.5,913.6 746.9,909.9 750.4,906.2 753.8,902.5 757.3,898.8 760.7,895.1 764.2,891.3 767.6,887.6 771.1,883.9 774.5,880.1 778.0,876.4 781.4,872.6 784.8,868.9 788.3,865.1 791.7,861.3 795.2,857.5 798.6,853.8 802.1,850.0 805.5,846.2 809.0,842.3 812.4,838.5 815.9,834.7 819.3,830.9 822.8,827.0 826.2,823.2 829.6,819.4 833.1,815.5 836.5,811.6 840.0,807.8 843.4,803.9 846.9,800.0 850.3,796.1 853.8,792.3 857.2,788.4 860.7,784.5 864.1,780.6 867.6,776.6 871.0,772.7 874.4,768.8 877.9,764.9 881.3,760.9 884.8,757.0 888.2,753.0 891.7,749.1 895.1,745.1 898.6,741.1 902.0,737.2 905.5,733.2 908.9,729.2 912.3,725.2 915.8,721.2 919.2,717.2 922.7,713.2 926.1,709.2 929.6,705.2 933.0,701.1 936.5,697.1 939.9,693.1 943.4,689.0 946.8,685.0 950.3,680.9 953.7,676.9" fill="none" stroke="#ff0000" stroke-width="8.5" stroke-linejoin="round" stroke-linecap="round"/>
<line x1="624.8" y1="1112.2" x2="653.1" y2="1098.6" stroke="#000" stroke-width="9.5" stroke-linecap="round"/>
<line x1="693.9" y1="1078.8" x2="722.2" y2="1065.8" stroke="#000" stroke-width="9.5" stroke-linecap="round"/>
<line x1="867.4" y1="1025.8" x2="903.6" y2="1018.5" stroke="#000" stroke-width="9.5" stroke-linecap="round"/>
<line x1="950.4" y1="1006.4" x2="986.1" y2="1000.6" stroke="#000" stroke-width="9.5" stroke-linecap="round"/>
<line x1="1034.6" y1="988.1" x2="1070.3" y2="981.8" stroke="#000" stroke-width="9.5" stroke-linecap="round"/>
<line x1="1117.5" y1="971.0" x2="1153.3" y2="965.3" stroke="#000" stroke-width="9.5" stroke-linecap="round"/>
<line x1="1200.5" y1="955.0" x2="1237.5" y2="948.3" stroke="#000" stroke-width="9.5" stroke-linecap="round"/>
<line x1="1285.1" y1="941.1" x2="1322.7" y2="933.4" stroke="#000" stroke-width="9.5" stroke-linecap="round"/>
<line x1="1368.2" y1="926.1" x2="1406.9" y2="918.9" stroke="#000" stroke-width="9.5" stroke-linecap="round"/>
<line x1="1452.9" y1="912.0" x2="1491.0" y2="905.1" stroke="#000" stroke-width="9.5" stroke-linecap="round"/>
<line x1="1536.2" y1="897.5" x2="1575.0" y2="890.9" stroke="#000" stroke-width="9.5" stroke-linecap="round"/>
<line x1="1620.4" y1="885.2" x2="1658.9" y2="878.6" stroke="#000" stroke-width="9.5" stroke-linecap="round"/>
<line x1="1705.1" y1="870.9" x2="1743.0" y2="865.6" stroke="#000" stroke-width="9.5" stroke-linecap="round"/>
<line x1="1789.9" y1="858.0" x2="1813.8" y2="854.7" stroke="#000" stroke-width="9.5" stroke-linecap="round"/>
<polyline points="770.5,1043.6 782,1037.5 782,1048 818,1038.7" fill="none" stroke="#000" stroke-width="9.5" stroke-linecap="round" stroke-linejoin="round"/>
<polyline points="264.5,1317.5 267.9,1316.7 271.4,1315.6 274.8,1314.4 278.3,1313.1 281.7,1311.7 285.2,1310.2 288.6,1308.7 292.1,1307.1 295.5,1305.5 299.0,1303.8 302.4,1302.1 305.9,1300.3 309.3,1298.5 312.7,1296.7 316.2,1294.8 319.6,1293.0 323.1,1291.0 326.5,1289.1 330.0,1287.1 333.4,1285.1 336.9,1283.1 340.3,1281.0 343.8,1279.0 347.2,1276.9 350.6,1274.8 354.1,1272.6 357.5,1270.5 361.0,1268.3 364.4,1266.1 367.9,1263.9 371.3,1261.7 374.8,1259.4 378.2,1257.2 381.7,1254.9 385.1,1252.6 388.6,1250.3 392.0,1248.0 395.4,1245.6 398.9,1243.3 402.3,1240.9 405.8,1238.5 409.2,1236.1 412.7,1233.7 416.1,1231.3 419.6,1228.8 423.0,1226.4 426.5,1223.9 429.9,1221.4 433.4,1218.9 436.8,1216.4 440.2,1213.9 443.7,1211.4 447.1,1208.8 450.6,1206.3 454.0,1203.7 457.5,1201.1 460.9,1198.6 464.4,1196.0 467.8,1193.4 471.3,1190.7 474.7,1188.1 478.2,1185.5 481.6,1182.8 485.0,1180.2 488.5,1177.5 491.9,1174.8 495.4,1172.1 498.8,1169.4 502.3,1166.7 505.7,1164.0 509.2,1161.3 512.6,1158.5 516.1,1155.8 519.5,1153.0 523.0,1150.3 526.4,1147.5 529.8,1144.7 533.3,1141.9 536.7,1139.1 540.2,1136.3 543.6,1133.5 547.1,1130.7 550.5,1127.8 554.0,1125.0 557.4,1122.1 560.9,1119.3 564.3,1116.4 567.7,1113.5 571.2,1110.6 574.6,1107.8 578.1,1104.9 581.5,1101.9 585.0,1099.0 588.4,1096.1 591.9,1093.2 595.3,1090.2 598.8,1087.3 602.2,1084.4 605.7,1081.4 609.1,1078.4 612.5,1075.5 616.0,1072.5 619.4,1069.5 622.9,1066.5 626.3,1063.5 629.8,1060.5 633.2,1057.5 636.7,1054.4 640.1,1051.4 643.2,1048.7" fill="none" stroke="#00ff00" stroke-width="27" stroke-linecap="round" stroke-linejoin="round"/>
</g>
<rect x="287.5" y="60.8" width="657" height="607.5" fill="#fff" stroke="#000" stroke-width="7"/>
<circle cx="358.2" cy="103.0" r="14.6" fill="#ff00ff"/>
<text x="441.77" y="121.00" font-family="'Liberation Serif', serif" font-size="53.6" font-style="italic">ν</text>
<text x="474.50" y="121.00" font-family="'Liberation Serif', serif" font-size="53.6" textLength="35.15" lengthAdjust="spacingAndGlyphs">=</text>
<text x="520.06" y="121.00" font-family="'Liberation Serif', serif" font-size="53.6">0.20</text>
<text x="629.92" y="121.00" font-family="'Liberation Serif', serif" font-size="53.6">and</text>
<text x="722.63" y="121.00" font-family="'Liberation Serif', serif" font-size="53.6" font-style="italic">E/Y</text>
<text x="811.51" y="121.00" font-family="'Liberation Serif', serif" font-size="53.6" textLength="33.81" lengthAdjust="spacingAndGlyphs">=</text>
<text x="858.04" y="121.00" font-family="'Liberation Serif', serif" font-size="53.6">800</text>
<polygon points="340.7,187.9 375.7,187.9 358.2,158.9" fill="#000"/>
<text x="441.77" y="195.90" font-family="'Liberation Serif', serif" font-size="53.6" font-style="italic">ν</text>
<text x="474.50" y="195.90" font-family="'Liberation Serif', serif" font-size="53.6" textLength="35.15" lengthAdjust="spacingAndGlyphs">=</text>
<text x="520.06" y="195.90" font-family="'Liberation Serif', serif" font-size="53.6">0.20</text>
<text x="629.92" y="195.90" font-family="'Liberation Serif', serif" font-size="53.6">and</text>
<text x="722.63" y="195.90" font-family="'Liberation Serif', serif" font-size="53.6" font-style="italic">E/Y</text>
<text x="811.51" y="195.90" font-family="'Liberation Serif', serif" font-size="53.6" textLength="33.81" lengthAdjust="spacingAndGlyphs">=</text>
<text x="858.04" y="195.90" font-family="'Liberation Serif', serif" font-size="53.6">600</text>
<rect x="345.4" y="240.1" width="25.5" height="25.5" fill="#000"/>
<text x="441.77" y="270.80" font-family="'Liberation Serif', serif" font-size="53.6" font-style="italic">ν</text>
<text x="474.50" y="270.80" font-family="'Liberation Serif', serif" font-size="53.6" textLength="35.15" lengthAdjust="spacingAndGlyphs">=</text>
<text x="520.06" y="270.80" font-family="'Liberation Serif', serif" font-size="53.6">0.20</text>
<text x="629.92" y="270.80" font-family="'Liberation Serif', serif" font-size="53.6">and</text>
<text x="722.63" y="270.80" font-family="'Liberation Serif', serif" font-size="53.6" font-style="italic">E/Y</text>
<text x="811.51" y="270.80" font-family="'Liberation Serif', serif" font-size="53.6" textLength="33.81" lengthAdjust="spacingAndGlyphs">=</text>
<text x="858.04" y="270.80" font-family="'Liberation Serif', serif" font-size="53.6">400</text>
<polygon points="340.7,317.7 375.7,317.7 358.2,346.7" fill="#000"/>
<text x="441.77" y="345.70" font-family="'Liberation Serif', serif" font-size="53.6" font-style="italic">ν</text>
<text x="474.50" y="345.70" font-family="'Liberation Serif', serif" font-size="53.6" textLength="35.15" lengthAdjust="spacingAndGlyphs">=</text>
<text x="520.06" y="345.70" font-family="'Liberation Serif', serif" font-size="53.6">0.20</text>
<text x="629.92" y="345.70" font-family="'Liberation Serif', serif" font-size="53.6">and</text>
<text x="722.63" y="345.70" font-family="'Liberation Serif', serif" font-size="53.6" font-style="italic">E/Y</text>
<text x="811.51" y="345.70" font-family="'Liberation Serif', serif" font-size="53.6" textLength="33.81" lengthAdjust="spacingAndGlyphs">=</text>
<text x="858.04" y="345.70" font-family="'Liberation Serif', serif" font-size="53.6">280</text>
<polygon points="358.2,387.2 362.7,397.4 373.8,398.5 365.5,406.0 367.8,416.9 358.2,411.3 348.6,416.9 350.9,406.0 342.6,398.5 353.7,397.4" fill="#0000ff"/>
<text x="441.77" y="420.60" font-family="'Liberation Serif', serif" font-size="53.6" font-style="italic">ν</text>
<text x="474.50" y="420.60" font-family="'Liberation Serif', serif" font-size="53.6" textLength="35.15" lengthAdjust="spacingAndGlyphs">=</text>
<text x="520.06" y="420.60" font-family="'Liberation Serif', serif" font-size="53.6">0.20</text>
<text x="629.92" y="420.60" font-family="'Liberation Serif', serif" font-size="53.6">and</text>
<text x="722.63" y="420.60" font-family="'Liberation Serif', serif" font-size="53.6" font-style="italic">E/Y</text>
<text x="811.51" y="420.60" font-family="'Liberation Serif', serif" font-size="53.6" textLength="33.81" lengthAdjust="spacingAndGlyphs">=</text>
<text x="858.04" y="420.60" font-family="'Liberation Serif', serif" font-size="53.6">180</text>
<circle cx="358.2" cy="477.5" r="12.5" fill="#fff" stroke="#00ff00" stroke-width="5.0"/>
<text x="441.77" y="495.50" font-family="'Liberation Serif', serif" font-size="53.6" font-style="italic">ν</text>
<text x="474.50" y="495.50" font-family="'Liberation Serif', serif" font-size="53.6" textLength="35.15" lengthAdjust="spacingAndGlyphs">=</text>
<text x="520.06" y="495.50" font-family="'Liberation Serif', serif" font-size="53.6">0.45</text>
<text x="629.92" y="495.50" font-family="'Liberation Serif', serif" font-size="53.6">and</text>
<text x="722.63" y="495.50" font-family="'Liberation Serif', serif" font-size="53.6" font-style="italic">E/Y</text>
<text x="811.51" y="495.50" font-family="'Liberation Serif', serif" font-size="53.6" textLength="33.81" lengthAdjust="spacingAndGlyphs">=</text>
<text x="858.04" y="495.50" font-family="'Liberation Serif', serif" font-size="53.6">800</text>
<polygon points="343.2,561.4 373.2,561.4 358.2,534.4" fill="#fff" stroke="#000" stroke-width="5.0" stroke-linejoin="round"/>
<text x="441.77" y="570.40" font-family="'Liberation Serif', serif" font-size="53.6" font-style="italic">ν</text>
<text x="474.50" y="570.40" font-family="'Liberation Serif', serif" font-size="53.6" textLength="35.15" lengthAdjust="spacingAndGlyphs">=</text>
<text x="520.06" y="570.40" font-family="'Liberation Serif', serif" font-size="53.6">0.45</text>
<text x="629.92" y="570.40" font-family="'Liberation Serif', serif" font-size="53.6">and</text>
<text x="722.63" y="570.40" font-family="'Liberation Serif', serif" font-size="53.6" font-style="italic">E/Y</text>
<text x="811.51" y="570.40" font-family="'Liberation Serif', serif" font-size="53.6" textLength="33.81" lengthAdjust="spacingAndGlyphs">=</text>
<text x="858.04" y="570.40" font-family="'Liberation Serif', serif" font-size="53.6">600</text>
<rect x="347.4" y="616.6" width="21.5" height="21.5" fill="#fff" stroke="#000" stroke-width="5.0"/>
<text x="441.77" y="645.30" font-family="'Liberation Serif', serif" font-size="53.6" font-style="italic">ν</text>
<text x="474.50" y="645.30" font-family="'Liberation Serif', serif" font-size="53.6" textLength="35.15" lengthAdjust="spacingAndGlyphs">=</text>
<text x="520.06" y="645.30" font-family="'Liberation Serif', serif" font-size="53.6">0.45</text>
<text x="629.92" y="645.30" font-family="'Liberation Serif', serif" font-size="53.6">and</text>
<text x="722.63" y="645.30" font-family="'Liberation Serif', serif" font-size="53.6" font-style="italic">E/Y</text>
<text x="811.51" y="645.30" font-family="'Liberation Serif', serif" font-size="53.6" textLength="33.81" lengthAdjust="spacingAndGlyphs">=</text>
<text x="858.04" y="645.30" font-family="'Liberation Serif', serif" font-size="53.6">400</text>
<rect x="1309.4" y="952.8" width="606" height="331.8" fill="#fff" stroke="#000" stroke-width="6.8"/>
<polygon points="1358.0,982.8 1388.0,982.8 1373.0,1009.8" fill="#fff" stroke="#000" stroke-width="5.0" stroke-linejoin="round"/>
<text x="1450.52" y="1009.30" font-family="'Liberation Serif', serif" font-size="50" font-style="italic">ν</text>
<text x="1480.41" y="1009.30" font-family="'Liberation Serif', serif" font-size="50" textLength="32.72" lengthAdjust="spacingAndGlyphs">=</text>
<text x="1523.60" y="1009.30" font-family="'Liberation Serif', serif" font-size="50">0.45</text>
<text x="1624.94" y="1009.30" font-family="'Liberation Serif', serif" font-size="50">and</text>
<text x="1709.99" y="1009.30" font-family="'Liberation Serif', serif" font-size="50" font-style="italic">E/Y</text>
<text x="1792.57" y="1009.30" font-family="'Liberation Serif', serif" font-size="50" textLength="32.00" lengthAdjust="spacingAndGlyphs">=</text>
<text x="1835.40" y="1009.30" font-family="'Liberation Serif', serif" font-size="50">280</text>
<polygon points="1373.0,1045.6 1376.9,1054.6 1386.7,1055.6 1379.3,1062.0 1381.5,1071.6 1373.0,1066.6 1364.5,1071.6 1366.7,1062.0 1359.3,1055.6 1369.1,1054.6" fill="#fff" stroke="#ff0000" stroke-width="6.0" stroke-linejoin="round"/>
<text x="1450.52" y="1076.70" font-family="'Liberation Serif', serif" font-size="50" font-style="italic">ν</text>
<text x="1480.41" y="1076.70" font-family="'Liberation Serif', serif" font-size="50" textLength="32.72" lengthAdjust="spacingAndGlyphs">=</text>
<text x="1523.60" y="1076.70" font-family="'Liberation Serif', serif" font-size="50">0.45</text>
<text x="1624.94" y="1076.70" font-family="'Liberation Serif', serif" font-size="50">and</text>
<text x="1709.99" y="1076.70" font-family="'Liberation Serif', serif" font-size="50" font-style="italic">E/Y</text>
<text x="1792.57" y="1076.70" font-family="'Liberation Serif', serif" font-size="50" textLength="32.00" lengthAdjust="spacingAndGlyphs">=</text>
<text x="1835.40" y="1076.70" font-family="'Liberation Serif', serif" font-size="50">180</text>
<line x1="1316.7" y1="1123.4" x2="1430" y2="1123.4" stroke="#ff0000" stroke-width="8.8" stroke-linecap="round"/>
<text x="1442.46" y="1140.50" font-family="'Liberation Serif', serif" font-size="50" textLength="198.54" lengthAdjust="spacingAndGlyphs">SC model</text>
<line x1="1316.7" y1="1186.6" x2="1356.2" y2="1186.6" stroke="#000" stroke-width="8.8" stroke-linecap="round"/>
<line x1="1401.4" y1="1186.6" x2="1429.5" y2="1186.6" stroke="#000" stroke-width="8.8" stroke-linecap="round"/>
<text x="1442.48" y="1203.30" font-family="'Liberation Serif', serif" font-size="50" textLength="208.11" lengthAdjust="spacingAndGlyphs">SM model</text>
<line x1="1316.6" y1="1249" x2="1430" y2="1249" stroke="#00ff00" stroke-width="21" stroke-linecap="round"/>
<text x="1442.57" y="1265.70" font-family="'Liberation Serif', serif" font-size="50" textLength="202.72" lengthAdjust="spacingAndGlyphs">KE model</text>
<text x="264.5" y="1386.3" font-family="'Liberation Serif', serif" font-size="68.5" text-anchor="middle">0</text>
<text x="609.1" y="1386.3" font-family="'Liberation Serif', serif" font-size="68.5" text-anchor="middle">100</text>
<text x="953.7" y="1386.3" font-family="'Liberation Serif', serif" font-size="68.5" text-anchor="middle">200</text>
<text x="1298.3" y="1386.3" font-family="'Liberation Serif', serif" font-size="68.5" text-anchor="middle">300</text>
<text x="1642.9" y="1386.3" font-family="'Liberation Serif', serif" font-size="68.5" text-anchor="middle">400</text>
<text x="1987.5" y="1386.3" font-family="'Liberation Serif', serif" font-size="68.5" text-anchor="middle">500</text>
<text x="244.7" y="1337.3" font-family="'Liberation Serif', serif" font-size="68.5" text-anchor="end">0</text>
<text x="244.7" y="1082.3" font-family="'Liberation Serif', serif" font-size="68.5" text-anchor="end">500</text>
<text x="244.7" y="827.3" font-family="'Liberation Serif', serif" font-size="68.5" text-anchor="end">1000</text>
<text x="244.7" y="572.3" font-family="'Liberation Serif', serif" font-size="68.5" text-anchor="end">1500</text>
<text x="244.7" y="317.3" font-family="'Liberation Serif', serif" font-size="68.5" text-anchor="end">2000</text>
<text x="244.7" y="62.3" font-family="'Liberation Serif', serif" font-size="68.5" text-anchor="end">2500</text>
<text x="617.87" y="1472.00" font-family="'Liberation Serif', serif" font-size="67.2" textLength="395.16" lengthAdjust="spacingAndGlyphs">Dimensionless</text>
<text x="1030.19" y="1472.00" font-family="'Liberation Serif', serif" font-size="67.2">interference</text>
<text x="1363.65" y="1472.00" font-family="'Liberation Serif', serif" font-size="67.2">(</text>
<text x="1386.59" y="1472.00" font-family="'Liberation Serif', serif" font-size="67.2" font-style="italic" textLength="47.04" lengthAdjust="spacingAndGlyphs">ω</text>
<text x="1431.30" y="1472.00" font-family="'Liberation Serif', serif" font-size="67.2" textLength="26.70" lengthAdjust="spacingAndGlyphs">/</text>
<text x="1452.36" y="1472.00" font-family="'Liberation Serif', serif" font-size="67.2" font-style="italic" textLength="47.60" lengthAdjust="spacingAndGlyphs">ω</text>
<text x="1499.15" y="1489.70" font-family="'Liberation Serif', serif" font-size="44" font-style="italic">c</text>
<text x="1518.63" y="1472.00" font-family="'Liberation Serif', serif" font-size="67.2">)</text>
<g transform="translate(62.3,1141) rotate(-90)">
<text x="-1.65" y="0.00" font-family="'Liberation Serif', serif" font-size="67.7">Dimensionless</text>
<text x="412.42" y="0.00" font-family="'Liberation Serif', serif" font-size="67.7">contact</text>
<text x="626.84" y="0.00" font-family="'Liberation Serif', serif" font-size="67.7">load</text>
<text x="760.22" y="0.00" font-family="'Liberation Serif', serif" font-size="67.7">(</text>
<text x="780.66" y="0.00" font-family="'Liberation Serif', serif" font-size="67.7" font-style="italic">F</text>
<text x="821.40" y="0.00" font-family="'Liberation Serif', serif" font-size="67.7">/</text>
<text x="840.76" y="0.00" font-family="'Liberation Serif', serif" font-size="67.7" font-style="italic">F</text>
<text x="882.72" y="18.50" font-family="'Liberation Serif', serif" font-size="45" font-style="italic">c</text>
<text x="902.22" y="0.00" font-family="'Liberation Serif', serif" font-size="67.7">)</text>
</g>
</svg>
</body></html>
